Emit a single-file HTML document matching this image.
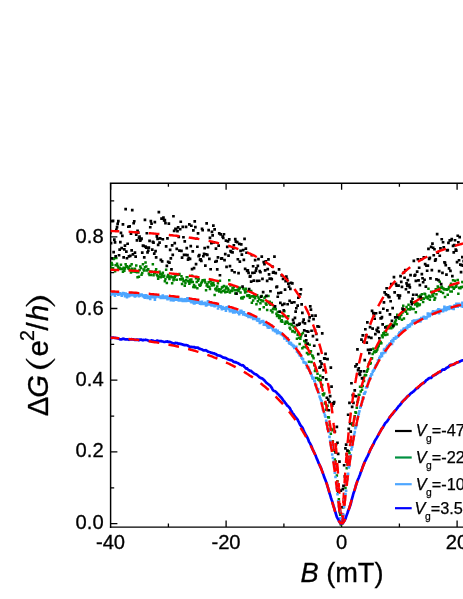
<!DOCTYPE html>
<html><head><meta charset="utf-8"><title>chart</title>
<style>html,body{margin:0;padding:0;background:#fff;font-family:"Liberation Sans",sans-serif}svg{display:block;position:absolute;left:0;top:0;will-change:transform}</style>
</head><body>
<svg width="463" height="599" viewBox="0 0 463 599" style="display:block">
<rect width="463" height="599" fill="#fff"/>
<defs><clipPath id="c"><rect x="110.6" y="183.3" width="357.4" height="343.8"/></clipPath></defs>
<path d="M110.6 182.5V527.9M109.8 527.1H463M109.8 183.3H463" stroke="#000" stroke-width="1.45" fill="none"/>
<path d="M110.6 183.3v6.5M168.4 527.1v-3.5M168.4 183.3v3.5M226.1 527.1v-6.5M226.1 183.3v6.5M283.9 527.1v-3.5M283.9 183.3v3.5M341.6 527.1v-6.5M341.6 183.3v6.5M399.4 527.1v-3.5M399.4 183.3v3.5M457.1 527.1v-6.5M457.1 183.3v6.5M110.6 523.6h6.8M110.6 487.8h3.6M110.6 451.9h6.8M110.6 416.1h3.6M110.6 380.2h6.8M110.6 344.4h3.6M110.6 308.5h6.8M110.6 272.7h3.6M110.6 236.8h6.8M110.6 200.9h3.6" stroke="#000" stroke-width="1.3" fill="none"/>
<g clip-path="url(#c)">
<path d="M107.8 263.6h2.5v2.5h-2.5zM108.5 263.4h2.5v2.5h-2.5zM109.1 267.4h2.5v2.5h-2.5zM109.8 266.5h2.5v2.5h-2.5zM110.4 261.8h2.5v2.5h-2.5zM111.1 263.4h2.5v2.5h-2.5zM111.8 267.0h2.5v2.5h-2.5zM112.4 257.8h2.5v2.5h-2.5zM113.1 257.0h2.5v2.5h-2.5zM113.8 270.0h2.5v2.5h-2.5zM114.4 264.1h2.5v2.5h-2.5zM115.1 256.7h2.5v2.5h-2.5zM115.8 262.6h2.5v2.5h-2.5zM116.4 264.7h2.5v2.5h-2.5zM117.1 266.2h2.5v2.5h-2.5zM117.8 267.5h2.5v2.5h-2.5zM118.4 266.5h2.5v2.5h-2.5zM119.1 267.7h2.5v2.5h-2.5zM119.7 263.4h2.5v2.5h-2.5zM120.4 267.4h2.5v2.5h-2.5zM121.1 267.7h2.5v2.5h-2.5zM121.7 270.4h2.5v2.5h-2.5zM122.4 266.5h2.5v2.5h-2.5zM123.1 269.5h2.5v2.5h-2.5zM123.7 267.2h2.5v2.5h-2.5zM124.4 263.1h2.5v2.5h-2.5zM125.1 265.5h2.5v2.5h-2.5zM125.7 265.1h2.5v2.5h-2.5zM126.4 265.8h2.5v2.5h-2.5zM127.1 266.9h2.5v2.5h-2.5zM127.7 267.6h2.5v2.5h-2.5zM128.4 268.3h2.5v2.5h-2.5zM129.0 264.8h2.5v2.5h-2.5zM129.7 271.2h2.5v2.5h-2.5zM130.4 263.0h2.5v2.5h-2.5zM131.0 267.5h2.5v2.5h-2.5zM131.7 270.3h2.5v2.5h-2.5zM132.4 269.5h2.5v2.5h-2.5zM133.0 270.2h2.5v2.5h-2.5zM133.7 267.5h2.5v2.5h-2.5zM134.4 270.6h2.5v2.5h-2.5zM135.0 264.3h2.5v2.5h-2.5zM135.7 271.0h2.5v2.5h-2.5zM136.3 276.1h2.5v2.5h-2.5zM137.0 271.0h2.5v2.5h-2.5zM137.7 275.4h2.5v2.5h-2.5zM138.3 268.8h2.5v2.5h-2.5zM139.0 265.2h2.5v2.5h-2.5zM139.7 266.7h2.5v2.5h-2.5zM140.3 273.5h2.5v2.5h-2.5zM141.0 271.7h2.5v2.5h-2.5zM141.7 263.1h2.5v2.5h-2.5zM142.3 268.2h2.5v2.5h-2.5zM143.0 269.3h2.5v2.5h-2.5zM143.7 265.9h2.5v2.5h-2.5zM144.3 261.2h2.5v2.5h-2.5zM145.0 265.2h2.5v2.5h-2.5zM145.6 269.3h2.5v2.5h-2.5zM146.3 268.7h2.5v2.5h-2.5zM147.0 267.9h2.5v2.5h-2.5zM147.6 272.2h2.5v2.5h-2.5zM148.3 273.8h2.5v2.5h-2.5zM149.0 270.2h2.5v2.5h-2.5zM149.6 273.7h2.5v2.5h-2.5zM150.3 270.8h2.5v2.5h-2.5zM151.0 270.4h2.5v2.5h-2.5zM151.6 262.9h2.5v2.5h-2.5zM152.3 273.9h2.5v2.5h-2.5zM153.0 271.5h2.5v2.5h-2.5zM153.6 271.8h2.5v2.5h-2.5zM154.3 269.9h2.5v2.5h-2.5zM154.9 268.0h2.5v2.5h-2.5zM155.6 273.4h2.5v2.5h-2.5zM156.3 274.7h2.5v2.5h-2.5zM156.9 277.6h2.5v2.5h-2.5zM157.6 275.3h2.5v2.5h-2.5zM158.3 270.5h2.5v2.5h-2.5zM158.9 272.4h2.5v2.5h-2.5zM159.6 276.1h2.5v2.5h-2.5zM160.3 274.1h2.5v2.5h-2.5zM160.9 272.9h2.5v2.5h-2.5zM161.6 271.5h2.5v2.5h-2.5zM162.2 275.4h2.5v2.5h-2.5zM162.9 274.4h2.5v2.5h-2.5zM163.6 279.9h2.5v2.5h-2.5zM164.2 277.8h2.5v2.5h-2.5zM164.9 268.5h2.5v2.5h-2.5zM165.6 281.7h2.5v2.5h-2.5zM166.2 275.6h2.5v2.5h-2.5zM166.9 273.8h2.5v2.5h-2.5zM167.6 276.0h2.5v2.5h-2.5zM168.2 277.7h2.5v2.5h-2.5zM168.9 275.3h2.5v2.5h-2.5zM169.6 275.3h2.5v2.5h-2.5zM170.2 275.7h2.5v2.5h-2.5zM170.9 282.0h2.5v2.5h-2.5zM171.5 276.3h2.5v2.5h-2.5zM172.2 278.9h2.5v2.5h-2.5zM172.9 278.0h2.5v2.5h-2.5zM173.5 275.5h2.5v2.5h-2.5zM174.2 274.3h2.5v2.5h-2.5zM174.9 273.6h2.5v2.5h-2.5zM175.5 278.5h2.5v2.5h-2.5zM176.2 273.8h2.5v2.5h-2.5zM176.9 273.1h2.5v2.5h-2.5zM177.5 273.4h2.5v2.5h-2.5zM178.2 272.7h2.5v2.5h-2.5zM178.9 278.1h2.5v2.5h-2.5zM179.5 278.3h2.5v2.5h-2.5zM180.2 275.0h2.5v2.5h-2.5zM180.8 282.7h2.5v2.5h-2.5zM181.5 277.4h2.5v2.5h-2.5zM182.2 280.1h2.5v2.5h-2.5zM182.8 279.7h2.5v2.5h-2.5zM183.5 284.6h2.5v2.5h-2.5zM184.2 281.8h2.5v2.5h-2.5zM184.8 279.0h2.5v2.5h-2.5zM185.5 276.1h2.5v2.5h-2.5zM186.2 275.9h2.5v2.5h-2.5zM186.8 279.7h2.5v2.5h-2.5zM187.5 280.2h2.5v2.5h-2.5zM188.1 282.6h2.5v2.5h-2.5zM188.8 278.5h2.5v2.5h-2.5zM189.5 280.9h2.5v2.5h-2.5zM190.1 278.2h2.5v2.5h-2.5zM190.8 274.4h2.5v2.5h-2.5zM191.5 280.7h2.5v2.5h-2.5zM192.1 285.8h2.5v2.5h-2.5zM192.8 283.8h2.5v2.5h-2.5zM193.5 286.0h2.5v2.5h-2.5zM194.1 285.3h2.5v2.5h-2.5zM194.8 276.9h2.5v2.5h-2.5zM195.5 280.7h2.5v2.5h-2.5zM196.1 286.9h2.5v2.5h-2.5zM196.8 279.6h2.5v2.5h-2.5zM197.4 277.7h2.5v2.5h-2.5zM198.1 283.4h2.5v2.5h-2.5zM198.8 284.6h2.5v2.5h-2.5zM199.4 283.6h2.5v2.5h-2.5zM200.1 281.7h2.5v2.5h-2.5zM200.8 280.6h2.5v2.5h-2.5zM201.4 278.9h2.5v2.5h-2.5zM202.1 278.9h2.5v2.5h-2.5zM202.8 279.2h2.5v2.5h-2.5zM203.4 278.7h2.5v2.5h-2.5zM204.1 281.3h2.5v2.5h-2.5zM204.8 288.9h2.5v2.5h-2.5zM205.4 284.3h2.5v2.5h-2.5zM206.1 282.9h2.5v2.5h-2.5zM206.7 285.4h2.5v2.5h-2.5zM207.4 281.1h2.5v2.5h-2.5zM208.1 285.6h2.5v2.5h-2.5zM208.7 287.7h2.5v2.5h-2.5zM209.4 279.7h2.5v2.5h-2.5zM210.1 282.5h2.5v2.5h-2.5zM210.7 284.2h2.5v2.5h-2.5zM211.4 281.9h2.5v2.5h-2.5zM212.1 281.5h2.5v2.5h-2.5zM212.7 284.1h2.5v2.5h-2.5zM213.4 293.8h2.5v2.5h-2.5zM214.1 287.9h2.5v2.5h-2.5zM214.7 287.3h2.5v2.5h-2.5zM215.4 289.2h2.5v2.5h-2.5zM216.0 285.3h2.5v2.5h-2.5zM216.7 282.1h2.5v2.5h-2.5zM217.4 287.9h2.5v2.5h-2.5zM218.0 290.3h2.5v2.5h-2.5zM218.7 279.6h2.5v2.5h-2.5zM219.4 288.2h2.5v2.5h-2.5zM220.0 291.0h2.5v2.5h-2.5zM220.7 286.2h2.5v2.5h-2.5zM221.4 285.7h2.5v2.5h-2.5zM222.0 289.7h2.5v2.5h-2.5zM222.7 284.7h2.5v2.5h-2.5zM223.3 289.2h2.5v2.5h-2.5zM224.0 290.9h2.5v2.5h-2.5zM224.7 287.3h2.5v2.5h-2.5zM225.3 285.4h2.5v2.5h-2.5zM226.0 290.4h2.5v2.5h-2.5zM226.7 287.2h2.5v2.5h-2.5zM227.3 288.8h2.5v2.5h-2.5zM228.0 279.0h2.5v2.5h-2.5zM228.7 291.3h2.5v2.5h-2.5zM229.3 284.3h2.5v2.5h-2.5zM230.0 289.4h2.5v2.5h-2.5zM230.7 289.8h2.5v2.5h-2.5zM231.3 287.1h2.5v2.5h-2.5zM232.0 286.7h2.5v2.5h-2.5zM232.6 285.6h2.5v2.5h-2.5zM233.3 289.0h2.5v2.5h-2.5zM234.0 292.3h2.5v2.5h-2.5zM234.6 292.3h2.5v2.5h-2.5zM235.3 288.9h2.5v2.5h-2.5zM236.0 288.9h2.5v2.5h-2.5zM236.6 286.3h2.5v2.5h-2.5zM237.3 289.8h2.5v2.5h-2.5zM238.0 287.8h2.5v2.5h-2.5zM238.6 286.5h2.5v2.5h-2.5zM239.3 291.3h2.5v2.5h-2.5zM240.0 297.1h2.5v2.5h-2.5zM240.6 296.3h2.5v2.5h-2.5zM241.3 297.3h2.5v2.5h-2.5zM241.9 287.2h2.5v2.5h-2.5zM242.6 295.7h2.5v2.5h-2.5zM243.3 288.8h2.5v2.5h-2.5zM243.9 291.3h2.5v2.5h-2.5zM244.6 287.6h2.5v2.5h-2.5zM245.3 290.3h2.5v2.5h-2.5zM245.9 294.3h2.5v2.5h-2.5zM246.6 294.8h2.5v2.5h-2.5zM247.3 294.1h2.5v2.5h-2.5zM247.9 294.0h2.5v2.5h-2.5zM248.6 296.6h2.5v2.5h-2.5zM249.2 295.2h2.5v2.5h-2.5zM249.9 289.8h2.5v2.5h-2.5zM250.6 301.4h2.5v2.5h-2.5zM251.2 294.9h2.5v2.5h-2.5zM251.9 299.2h2.5v2.5h-2.5zM252.6 295.7h2.5v2.5h-2.5zM253.2 293.7h2.5v2.5h-2.5zM253.9 297.1h2.5v2.5h-2.5zM254.6 294.5h2.5v2.5h-2.5zM255.2 302.9h2.5v2.5h-2.5zM255.9 294.0h2.5v2.5h-2.5zM256.6 300.1h2.5v2.5h-2.5zM257.2 296.3h2.5v2.5h-2.5zM257.9 298.1h2.5v2.5h-2.5zM258.5 307.9h2.5v2.5h-2.5zM259.2 302.0h2.5v2.5h-2.5zM259.9 299.0h2.5v2.5h-2.5zM260.5 294.8h2.5v2.5h-2.5zM261.2 299.5h2.5v2.5h-2.5zM261.9 299.9h2.5v2.5h-2.5zM262.5 306.0h2.5v2.5h-2.5zM263.2 296.7h2.5v2.5h-2.5zM263.9 295.8h2.5v2.5h-2.5zM264.5 302.3h2.5v2.5h-2.5zM265.2 303.5h2.5v2.5h-2.5zM265.9 308.7h2.5v2.5h-2.5zM266.5 300.6h2.5v2.5h-2.5zM267.2 294.8h2.5v2.5h-2.5zM267.8 302.0h2.5v2.5h-2.5zM268.5 300.6h2.5v2.5h-2.5zM269.2 303.5h2.5v2.5h-2.5zM269.8 309.2h2.5v2.5h-2.5zM270.5 301.8h2.5v2.5h-2.5zM271.2 311.0h2.5v2.5h-2.5zM271.8 308.0h2.5v2.5h-2.5zM272.5 306.8h2.5v2.5h-2.5zM273.2 305.2h2.5v2.5h-2.5zM273.8 307.3h2.5v2.5h-2.5zM274.5 308.0h2.5v2.5h-2.5zM275.2 312.4h2.5v2.5h-2.5zM275.8 314.7h2.5v2.5h-2.5zM276.5 310.7h2.5v2.5h-2.5zM277.1 313.9h2.5v2.5h-2.5zM277.8 316.5h2.5v2.5h-2.5zM278.5 316.9h2.5v2.5h-2.5zM279.1 314.8h2.5v2.5h-2.5zM279.8 320.1h2.5v2.5h-2.5zM280.5 318.9h2.5v2.5h-2.5zM281.1 320.5h2.5v2.5h-2.5zM281.8 315.0h2.5v2.5h-2.5zM282.5 314.8h2.5v2.5h-2.5zM283.1 310.0h2.5v2.5h-2.5zM283.8 322.6h2.5v2.5h-2.5zM284.4 320.5h2.5v2.5h-2.5zM285.1 315.7h2.5v2.5h-2.5zM285.8 320.3h2.5v2.5h-2.5zM286.4 321.4h2.5v2.5h-2.5zM287.1 315.1h2.5v2.5h-2.5zM287.8 322.8h2.5v2.5h-2.5zM288.4 326.4h2.5v2.5h-2.5zM289.1 327.7h2.5v2.5h-2.5zM289.8 322.8h2.5v2.5h-2.5zM290.4 323.7h2.5v2.5h-2.5zM291.1 330.2h2.5v2.5h-2.5zM291.8 329.7h2.5v2.5h-2.5zM292.4 325.3h2.5v2.5h-2.5zM293.1 326.0h2.5v2.5h-2.5zM293.7 331.1h2.5v2.5h-2.5zM294.4 327.6h2.5v2.5h-2.5zM295.1 328.7h2.5v2.5h-2.5zM295.7 337.6h2.5v2.5h-2.5zM296.4 333.6h2.5v2.5h-2.5zM297.1 332.0h2.5v2.5h-2.5zM297.7 336.4h2.5v2.5h-2.5zM298.4 342.7h2.5v2.5h-2.5zM299.1 337.4h2.5v2.5h-2.5zM299.7 334.9h2.5v2.5h-2.5zM300.4 333.1h2.5v2.5h-2.5zM301.1 347.1h2.5v2.5h-2.5zM301.7 331.8h2.5v2.5h-2.5zM302.4 345.7h2.5v2.5h-2.5zM303.0 339.7h2.5v2.5h-2.5zM303.7 340.0h2.5v2.5h-2.5zM304.4 342.0h2.5v2.5h-2.5zM305.0 346.1h2.5v2.5h-2.5zM305.7 351.8h2.5v2.5h-2.5zM306.4 347.0h2.5v2.5h-2.5zM307.0 352.9h2.5v2.5h-2.5zM307.7 360.5h2.5v2.5h-2.5zM308.4 343.6h2.5v2.5h-2.5zM309.0 352.3h2.5v2.5h-2.5zM309.7 349.9h2.5v2.5h-2.5zM310.3 360.7h2.5v2.5h-2.5zM311.0 354.2h2.5v2.5h-2.5zM311.7 355.3h2.5v2.5h-2.5zM312.3 357.1h2.5v2.5h-2.5zM313.0 364.1h2.5v2.5h-2.5zM313.7 369.8h2.5v2.5h-2.5zM314.3 368.0h2.5v2.5h-2.5zM315.0 376.7h2.5v2.5h-2.5zM315.7 376.8h2.5v2.5h-2.5zM316.3 372.6h2.5v2.5h-2.5zM317.0 378.2h2.5v2.5h-2.5zM317.7 377.4h2.5v2.5h-2.5zM318.3 379.3h2.5v2.5h-2.5zM319.0 374.4h2.5v2.5h-2.5zM319.6 378.8h2.5v2.5h-2.5zM320.3 385.6h2.5v2.5h-2.5zM321.0 383.7h2.5v2.5h-2.5zM321.6 392.9h2.5v2.5h-2.5zM322.3 393.9h2.5v2.5h-2.5zM323.0 392.3h2.5v2.5h-2.5zM323.6 402.3h2.5v2.5h-2.5zM324.3 401.9h2.5v2.5h-2.5zM325.0 408.4h2.5v2.5h-2.5zM325.6 406.5h2.5v2.5h-2.5zM326.3 404.5h2.5v2.5h-2.5zM327.0 416.0h2.5v2.5h-2.5zM327.6 416.2h2.5v2.5h-2.5zM328.3 423.6h2.5v2.5h-2.5zM328.9 428.3h2.5v2.5h-2.5zM329.6 432.6h2.5v2.5h-2.5zM330.3 427.7h2.5v2.5h-2.5zM330.9 429.0h2.5v2.5h-2.5zM331.6 440.0h2.5v2.5h-2.5zM332.3 449.0h2.5v2.5h-2.5zM332.9 449.2h2.5v2.5h-2.5zM333.6 458.2h2.5v2.5h-2.5zM334.3 460.1h2.5v2.5h-2.5zM334.9 467.9h2.5v2.5h-2.5zM335.6 474.3h2.5v2.5h-2.5zM336.2 480.0h2.5v2.5h-2.5zM336.9 491.2h2.5v2.5h-2.5zM337.6 498.1h2.5v2.5h-2.5zM338.2 510.3h2.5v2.5h-2.5zM338.9 513.4h2.5v2.5h-2.5zM339.6 523.3h2.5v2.5h-2.5zM340.2 522.5h2.5v2.5h-2.5zM340.9 522.4h2.5v2.5h-2.5zM341.6 514.2h2.5v2.5h-2.5zM342.2 506.0h2.5v2.5h-2.5zM342.9 502.7h2.5v2.5h-2.5zM343.6 493.7h2.5v2.5h-2.5zM344.2 486.7h2.5v2.5h-2.5zM344.9 475.8h2.5v2.5h-2.5zM345.5 467.1h2.5v2.5h-2.5zM346.2 462.9h2.5v2.5h-2.5zM346.9 459.8h2.5v2.5h-2.5zM347.5 450.1h2.5v2.5h-2.5zM348.2 451.8h2.5v2.5h-2.5zM348.9 439.8h2.5v2.5h-2.5zM349.5 440.1h2.5v2.5h-2.5zM350.2 440.6h2.5v2.5h-2.5zM350.9 423.7h2.5v2.5h-2.5zM351.5 422.1h2.5v2.5h-2.5zM352.2 424.3h2.5v2.5h-2.5zM352.9 417.8h2.5v2.5h-2.5zM353.5 415.1h2.5v2.5h-2.5zM354.2 411.0h2.5v2.5h-2.5zM354.8 411.5h2.5v2.5h-2.5zM355.5 406.5h2.5v2.5h-2.5zM356.2 400.8h2.5v2.5h-2.5zM356.8 398.5h2.5v2.5h-2.5zM357.5 393.5h2.5v2.5h-2.5zM358.2 393.4h2.5v2.5h-2.5zM358.8 385.6h2.5v2.5h-2.5zM359.5 390.3h2.5v2.5h-2.5zM360.2 385.6h2.5v2.5h-2.5zM360.8 388.4h2.5v2.5h-2.5zM361.5 384.7h2.5v2.5h-2.5zM362.2 376.5h2.5v2.5h-2.5zM362.8 379.7h2.5v2.5h-2.5zM363.5 374.3h2.5v2.5h-2.5zM364.1 373.7h2.5v2.5h-2.5zM364.8 374.1h2.5v2.5h-2.5zM365.5 370.6h2.5v2.5h-2.5zM366.1 369.2h2.5v2.5h-2.5zM366.8 367.4h2.5v2.5h-2.5zM367.5 362.8h2.5v2.5h-2.5zM368.1 361.4h2.5v2.5h-2.5zM368.8 362.6h2.5v2.5h-2.5zM369.5 361.8h2.5v2.5h-2.5zM370.1 357.5h2.5v2.5h-2.5zM370.8 356.9h2.5v2.5h-2.5zM371.4 352.8h2.5v2.5h-2.5zM372.1 347.6h2.5v2.5h-2.5zM372.8 350.4h2.5v2.5h-2.5zM373.4 351.1h2.5v2.5h-2.5zM374.1 350.1h2.5v2.5h-2.5zM374.8 350.4h2.5v2.5h-2.5zM375.4 349.3h2.5v2.5h-2.5zM376.1 348.3h2.5v2.5h-2.5zM376.8 345.7h2.5v2.5h-2.5zM377.4 344.6h2.5v2.5h-2.5zM378.1 340.7h2.5v2.5h-2.5zM378.8 342.3h2.5v2.5h-2.5zM379.4 340.7h2.5v2.5h-2.5zM380.1 342.0h2.5v2.5h-2.5zM380.7 334.3h2.5v2.5h-2.5zM381.4 335.9h2.5v2.5h-2.5zM382.1 331.9h2.5v2.5h-2.5zM382.7 333.3h2.5v2.5h-2.5zM383.4 330.7h2.5v2.5h-2.5zM384.1 333.8h2.5v2.5h-2.5zM384.7 330.6h2.5v2.5h-2.5zM385.4 325.1h2.5v2.5h-2.5zM386.1 333.3h2.5v2.5h-2.5zM386.7 326.9h2.5v2.5h-2.5zM387.4 324.8h2.5v2.5h-2.5zM388.1 326.9h2.5v2.5h-2.5zM388.7 325.3h2.5v2.5h-2.5zM389.4 323.2h2.5v2.5h-2.5zM390.0 327.0h2.5v2.5h-2.5zM390.7 323.6h2.5v2.5h-2.5zM391.4 325.9h2.5v2.5h-2.5zM392.0 324.7h2.5v2.5h-2.5zM392.7 323.8h2.5v2.5h-2.5zM393.4 321.9h2.5v2.5h-2.5zM394.0 320.4h2.5v2.5h-2.5zM394.7 318.9h2.5v2.5h-2.5zM395.4 322.9h2.5v2.5h-2.5zM396.0 313.6h2.5v2.5h-2.5zM396.7 315.0h2.5v2.5h-2.5zM397.3 315.3h2.5v2.5h-2.5zM398.0 317.5h2.5v2.5h-2.5zM398.7 316.1h2.5v2.5h-2.5zM399.3 313.8h2.5v2.5h-2.5zM400.0 313.5h2.5v2.5h-2.5zM400.7 318.5h2.5v2.5h-2.5zM401.3 311.2h2.5v2.5h-2.5zM402.0 304.6h2.5v2.5h-2.5zM402.7 317.2h2.5v2.5h-2.5zM403.3 308.6h2.5v2.5h-2.5zM404.0 309.8h2.5v2.5h-2.5zM404.7 310.6h2.5v2.5h-2.5zM405.3 305.7h2.5v2.5h-2.5zM406.0 312.6h2.5v2.5h-2.5zM406.6 308.0h2.5v2.5h-2.5zM407.3 303.6h2.5v2.5h-2.5zM408.0 308.0h2.5v2.5h-2.5zM408.6 308.2h2.5v2.5h-2.5zM409.3 306.0h2.5v2.5h-2.5zM410.0 307.2h2.5v2.5h-2.5zM410.6 300.5h2.5v2.5h-2.5zM411.3 307.7h2.5v2.5h-2.5zM412.0 301.5h2.5v2.5h-2.5zM412.6 307.8h2.5v2.5h-2.5zM413.3 301.1h2.5v2.5h-2.5zM414.0 303.2h2.5v2.5h-2.5zM414.6 310.9h2.5v2.5h-2.5zM415.3 301.9h2.5v2.5h-2.5zM415.9 305.0h2.5v2.5h-2.5zM416.6 302.5h2.5v2.5h-2.5zM417.3 295.3h2.5v2.5h-2.5zM417.9 303.9h2.5v2.5h-2.5zM418.6 303.3h2.5v2.5h-2.5zM419.3 294.3h2.5v2.5h-2.5zM419.9 298.5h2.5v2.5h-2.5zM420.6 293.0h2.5v2.5h-2.5zM421.3 296.9h2.5v2.5h-2.5zM421.9 300.8h2.5v2.5h-2.5zM422.6 297.5h2.5v2.5h-2.5zM423.3 292.4h2.5v2.5h-2.5zM423.9 293.1h2.5v2.5h-2.5zM424.6 296.2h2.5v2.5h-2.5zM425.2 295.6h2.5v2.5h-2.5zM425.9 295.9h2.5v2.5h-2.5zM426.6 297.3h2.5v2.5h-2.5zM427.2 287.4h2.5v2.5h-2.5zM427.9 294.4h2.5v2.5h-2.5zM428.6 298.4h2.5v2.5h-2.5zM429.2 295.6h2.5v2.5h-2.5zM429.9 290.6h2.5v2.5h-2.5zM430.6 290.5h2.5v2.5h-2.5zM431.2 293.3h2.5v2.5h-2.5zM431.9 295.1h2.5v2.5h-2.5zM432.5 292.0h2.5v2.5h-2.5zM433.2 298.5h2.5v2.5h-2.5zM433.9 296.8h2.5v2.5h-2.5zM434.5 287.9h2.5v2.5h-2.5zM435.2 292.9h2.5v2.5h-2.5zM435.9 289.0h2.5v2.5h-2.5zM436.5 285.2h2.5v2.5h-2.5zM437.2 287.3h2.5v2.5h-2.5zM437.9 289.7h2.5v2.5h-2.5zM438.5 280.4h2.5v2.5h-2.5zM439.2 286.4h2.5v2.5h-2.5zM439.9 290.4h2.5v2.5h-2.5zM440.5 285.5h2.5v2.5h-2.5zM441.2 286.7h2.5v2.5h-2.5zM441.8 291.8h2.5v2.5h-2.5zM442.5 287.6h2.5v2.5h-2.5zM443.2 288.3h2.5v2.5h-2.5zM443.8 295.7h2.5v2.5h-2.5zM444.5 287.9h2.5v2.5h-2.5zM445.2 288.1h2.5v2.5h-2.5zM445.8 288.5h2.5v2.5h-2.5zM446.5 293.4h2.5v2.5h-2.5zM447.2 287.7h2.5v2.5h-2.5zM447.8 286.1h2.5v2.5h-2.5zM448.5 285.3h2.5v2.5h-2.5zM449.2 290.3h2.5v2.5h-2.5zM449.8 282.6h2.5v2.5h-2.5zM450.5 290.2h2.5v2.5h-2.5zM451.1 285.8h2.5v2.5h-2.5zM451.8 279.1h2.5v2.5h-2.5zM452.5 287.4h2.5v2.5h-2.5zM453.1 286.4h2.5v2.5h-2.5zM453.8 279.5h2.5v2.5h-2.5zM454.5 285.4h2.5v2.5h-2.5zM455.1 284.9h2.5v2.5h-2.5zM455.8 282.5h2.5v2.5h-2.5zM456.5 278.8h2.5v2.5h-2.5zM457.1 292.4h2.5v2.5h-2.5zM457.8 286.4h2.5v2.5h-2.5zM458.4 286.9h2.5v2.5h-2.5zM459.1 287.1h2.5v2.5h-2.5zM459.8 285.9h2.5v2.5h-2.5zM460.4 285.7h2.5v2.5h-2.5zM461.1 280.7h2.5v2.5h-2.5zM461.8 285.6h2.5v2.5h-2.5zM462.4 281.1h2.5v2.5h-2.5zM463.1 279.8h2.5v2.5h-2.5z" fill="#008000"/>
<polyline points="108.5,269.7 110.0,269.8 111.4,269.8 112.9,269.8 114.3,269.9 115.7,269.9 117.2,270.0 118.6,270.0 120.1,270.1 121.5,270.2 123.0,270.2 124.4,270.3 125.8,270.3 127.3,270.4 128.7,270.5 130.2,270.5 131.6,270.6 133.1,270.7 134.5,270.7 136.0,270.8 137.4,270.9 138.8,271.0 140.3,271.0 141.7,271.1 143.2,271.2 144.6,271.3 146.1,271.4 147.5,271.5 148.9,271.6 150.4,271.7 151.8,271.8 153.3,271.9 154.7,272.0 156.2,272.1 157.6,272.2 159.1,272.4 160.5,272.5 161.9,272.6 163.4,272.7 164.8,272.9 166.3,273.0 167.7,273.1 169.2,273.3 170.6,273.4 172.0,273.6 173.5,273.7 174.9,273.9 176.4,274.0 177.8,274.2 179.3,274.4 180.7,274.6 182.2,274.7 183.6,274.9 185.0,275.1 186.5,275.3 187.9,275.5 189.4,275.7 190.8,275.9 192.3,276.1 193.7,276.4 195.1,276.6 196.6,276.8 198.0,277.1 199.5,277.3 200.9,277.5 202.4,277.8 203.8,278.1 205.3,278.3 206.7,278.6 208.1,278.9 209.6,279.2 211.0,279.5 212.5,279.8 213.9,280.1 215.4,280.5 216.8,280.8 218.2,281.1 219.7,281.5 221.1,281.9 222.6,282.2 224.0,282.6 225.5,283.0 226.9,283.4 228.4,283.8 229.8,284.3 231.2,284.7 232.7,285.2 234.1,285.6 235.6,286.1 237.0,286.6 238.5,287.1 239.9,287.6 241.3,288.2 242.8,288.7 244.2,289.3 245.7,289.9 247.1,290.5 248.6,291.1 250.0,291.8 251.5,292.4 252.9,293.1 254.3,293.8 255.8,294.5 257.2,295.3 258.7,296.0 260.1,296.8 261.6,297.7 263.0,298.5 264.4,299.4 265.9,300.3 267.3,301.2 268.8,302.2 270.2,303.2 271.7,304.2 273.1,305.3 274.6,306.4 276.0,307.5 277.4,308.7 278.9,310.0 280.3,311.2 281.8,312.6 283.2,313.9 284.7,315.4 286.1,316.9 287.5,318.4 289.0,320.0 290.4,321.7 291.9,323.4 293.3,325.2 294.8,327.1 296.2,329.1 297.7,331.2 299.1,333.3 300.5,335.6 302.0,337.9 303.4,340.4 304.9,343.0 306.3,345.7 307.8,348.6 309.2,351.6 310.6,354.8 312.1,358.2 313.5,361.7 315.0,365.5 316.4,369.5 317.9,373.7 319.3,378.3 320.8,383.1 322.2,388.3 323.6,393.9 324.3,396.5 324.4,396.9 324.5,397.4 324.6,397.9 324.7,398.4 324.9,398.9 325.0,399.4 325.1,399.9 325.2,400.4 325.3,400.9 325.4,401.4 325.5,401.9 325.7,402.4 325.8,402.9 325.9,403.5 326.0,404.0 326.1,404.5 326.2,405.0 326.4,405.6 326.5,406.1 326.6,406.7 326.7,407.2 326.8,407.8 326.9,408.3 327.0,408.9 327.2,409.4 327.3,410.0 327.4,410.6 327.5,411.1 327.6,411.7 327.7,412.3 327.9,412.9 328.0,413.5 328.1,414.1 328.2,414.7 328.3,415.3 328.4,415.9 328.5,416.5 328.7,417.1 328.8,417.7 328.9,418.3 329.0,419.0 329.1,419.6 329.2,420.2 329.4,420.9 329.5,421.5 329.6,422.2 329.7,422.8 329.8,423.5 329.9,424.1 330.1,424.8 330.2,425.5 330.3,426.2 330.4,426.9 330.5,427.6 330.6,428.3 330.7,429.0 330.9,429.7 331.0,430.4 331.1,431.1 331.2,431.8 331.3,432.6 331.4,433.3 331.6,434.1 331.7,434.8 331.8,435.6 331.9,436.3 332.0,437.1 332.1,437.9 332.2,438.7 332.4,439.5 332.5,440.3 332.6,441.1 332.7,441.9 332.8,442.7 332.9,443.5 333.1,444.4 333.2,445.2 333.3,446.0 333.4,446.9 333.5,447.8 333.6,448.6 333.7,449.5 333.9,450.4 334.0,451.3 334.1,452.2 334.2,453.1 334.3,454.0 334.4,455.0 334.6,455.9 334.7,456.9 334.8,457.8 334.9,458.8 335.0,459.8 335.1,460.8 335.2,461.8 335.4,462.8 335.5,463.8 335.6,464.8 335.7,465.8 335.8,466.9 335.9,467.9 336.1,469.0 336.2,470.1 336.3,471.2 336.4,472.3 336.5,473.4 336.6,474.5 336.7,475.7 336.9,476.8 337.0,478.0 337.1,479.1 337.2,480.3 337.3,481.5 337.4,482.7 337.6,483.9 337.7,485.1 337.8,486.4 337.9,487.6 338.0,488.9 338.1,490.2 338.3,491.4 338.4,492.7 338.5,494.0 338.6,495.3 338.7,496.6 338.8,498.0 338.9,499.3 339.1,500.6 339.2,502.0 339.3,503.3 339.4,504.7 339.5,506.0 339.6,507.3 339.8,508.7 339.9,510.0 340.0,511.3 340.1,512.6 340.2,513.8 340.3,515.0 340.4,516.2 340.6,517.4 340.7,518.4 340.8,519.5 340.9,520.4 341.0,521.2 341.1,521.9 341.3,522.5 341.4,522.9 341.5,523.2 341.6,523.3 341.7,523.2 341.8,522.9 341.9,522.5 342.1,521.9 342.2,521.2 342.3,520.4 342.4,519.5 342.5,518.4 342.6,517.4 342.8,516.2 342.9,515.0 343.0,513.8 343.1,512.6 343.2,511.3 343.3,510.0 343.4,508.7 343.6,507.3 343.7,506.0 343.8,504.7 343.9,503.3 344.0,502.0 344.1,500.6 344.3,499.3 344.4,498.0 344.5,496.6 344.6,495.3 344.7,494.0 344.8,492.7 344.9,491.4 345.1,490.2 345.2,488.9 345.3,487.6 345.4,486.4 345.5,485.1 345.6,483.9 345.8,482.7 345.9,481.5 346.0,480.3 346.1,479.1 346.2,478.0 346.3,476.8 346.5,475.7 346.6,474.5 346.7,473.4 346.8,472.3 346.9,471.2 347.0,470.1 347.1,469.0 347.3,467.9 347.4,466.9 347.5,465.8 347.6,464.8 347.7,463.8 347.8,462.8 348.0,461.8 348.1,460.8 348.2,459.8 348.3,458.8 348.4,457.8 348.5,456.9 348.6,455.9 348.8,455.0 348.9,454.0 349.0,453.1 349.1,452.2 349.2,451.3 349.3,450.4 349.5,449.5 349.6,448.6 349.7,447.8 349.8,446.9 349.9,446.0 350.0,445.2 350.1,444.4 350.3,443.5 350.4,442.7 350.5,441.9 350.6,441.1 350.7,440.3 350.8,439.5 351.0,438.7 351.1,437.9 351.2,437.1 351.3,436.3 351.4,435.6 351.5,434.8 351.6,434.1 351.8,433.3 351.9,432.6 352.0,431.8 352.1,431.1 352.2,430.4 352.3,429.7 352.5,429.0 352.6,428.3 352.7,427.6 352.8,426.9 352.9,426.2 353.0,425.5 353.2,424.8 353.3,424.1 353.4,423.5 353.5,422.8 353.6,422.2 353.7,421.5 353.8,420.9 354.0,420.2 354.1,419.6 354.2,419.0 354.3,418.3 354.4,417.7 354.5,417.1 354.7,416.5 354.8,415.9 354.9,415.3 355.0,414.7 355.1,414.1 355.2,413.5 355.3,412.9 355.5,412.3 355.6,411.7 355.7,411.1 355.8,410.6 355.9,410.0 356.0,409.4 356.2,408.9 356.3,408.3 356.4,407.8 356.5,407.2 356.6,406.7 356.7,406.1 356.8,405.6 357.0,405.0 357.1,404.5 357.2,404.0 357.3,403.5 357.4,402.9 357.5,402.4 357.7,401.9 357.8,401.4 357.9,400.9 358.0,400.4 358.1,399.9 358.2,399.4 358.3,398.9 358.5,398.4 358.6,397.9 358.7,397.4 358.8,396.9 358.9,396.5 360.4,390.7 361.8,385.4 363.3,380.4 364.7,375.7 366.1,371.3 367.6,367.2 369.0,363.4 370.5,359.7 371.9,356.3 373.4,353.0 374.8,349.9 376.2,347.0 377.7,344.2 379.1,341.5 380.6,339.0 382.0,336.6 383.5,334.3 384.9,332.1 386.4,330.0 387.8,328.0 389.2,326.1 390.7,324.2 392.1,322.4 393.6,320.7 395.0,319.1 396.5,317.5 397.9,316.0 399.4,314.6 400.8,313.2 402.2,311.8 403.7,310.5 405.1,309.3 406.6,308.1 408.0,306.9 409.5,305.8 410.9,304.7 412.3,303.6 413.8,302.6 415.2,301.6 416.7,300.7 418.1,299.8 419.6,298.9 421.0,298.0 422.5,297.2 423.9,296.4 425.3,295.6 426.8,294.8 428.2,294.1 429.7,293.4 431.1,292.7 432.6,292.0 434.0,291.4 435.4,290.8 436.9,290.1 438.3,289.6 439.8,289.0 441.2,288.4 442.7,287.9 444.1,287.3 445.6,286.8 447.0,286.3 448.4,285.8 449.9,285.4 451.3,284.9 452.8,284.5 454.2,284.0 455.7,283.6 457.1,283.2 458.5,282.8 460.0,282.4 461.4,282.0 462.9,281.7 464.3,281.3 465.8,281.0 467.2,280.6" fill="none" stroke="#ff0000" stroke-width="2.45" stroke-dasharray="10.75 9.4" stroke-linejoin="round"/>
<path d="M107.7 218.9h2.7v2.7h-2.7zM108.4 237.9h2.7v2.7h-2.7zM109.0 231.6h2.7v2.7h-2.7zM109.7 241.7h2.7v2.7h-2.7zM110.3 257.1h2.7v2.7h-2.7zM111.0 219.7h2.7v2.7h-2.7zM111.7 219.6h2.7v2.7h-2.7zM112.3 250.7h2.7v2.7h-2.7zM113.0 238.2h2.7v2.7h-2.7zM113.7 241.0h2.7v2.7h-2.7zM114.3 255.1h2.7v2.7h-2.7zM115.0 228.6h2.7v2.7h-2.7zM115.7 225.7h2.7v2.7h-2.7zM116.3 222.6h2.7v2.7h-2.7zM117.0 219.7h2.7v2.7h-2.7zM117.7 253.9h2.7v2.7h-2.7zM118.3 248.2h2.7v2.7h-2.7zM119.0 240.7h2.7v2.7h-2.7zM119.6 231.6h2.7v2.7h-2.7zM120.3 246.8h2.7v2.7h-2.7zM121.0 234.5h2.7v2.7h-2.7zM121.6 223.0h2.7v2.7h-2.7zM122.3 256.1h2.7v2.7h-2.7zM123.0 248.0h2.7v2.7h-2.7zM123.6 244.3h2.7v2.7h-2.7zM124.3 207.8h2.7v2.7h-2.7zM125.0 250.2h2.7v2.7h-2.7zM125.6 256.9h2.7v2.7h-2.7zM126.3 242.4h2.7v2.7h-2.7zM127.0 225.4h2.7v2.7h-2.7zM127.6 255.0h2.7v2.7h-2.7zM128.3 225.0h2.7v2.7h-2.7zM128.9 254.6h2.7v2.7h-2.7zM129.6 232.2h2.7v2.7h-2.7zM130.3 249.0h2.7v2.7h-2.7zM130.9 208.7h2.7v2.7h-2.7zM131.6 253.1h2.7v2.7h-2.7zM132.3 221.9h2.7v2.7h-2.7zM132.9 219.9h2.7v2.7h-2.7zM133.6 251.3h2.7v2.7h-2.7zM134.3 255.3h2.7v2.7h-2.7zM134.9 233.2h2.7v2.7h-2.7zM135.6 239.0h2.7v2.7h-2.7zM136.2 229.5h2.7v2.7h-2.7zM136.9 231.3h2.7v2.7h-2.7zM137.6 236.5h2.7v2.7h-2.7zM138.2 235.2h2.7v2.7h-2.7zM138.9 239.3h2.7v2.7h-2.7zM139.6 238.0h2.7v2.7h-2.7zM140.2 237.3h2.7v2.7h-2.7zM140.9 251.2h2.7v2.7h-2.7zM141.6 244.2h2.7v2.7h-2.7zM142.2 244.5h2.7v2.7h-2.7zM142.9 256.1h2.7v2.7h-2.7zM143.6 218.5h2.7v2.7h-2.7zM144.2 245.2h2.7v2.7h-2.7zM144.9 246.3h2.7v2.7h-2.7zM145.5 231.9h2.7v2.7h-2.7zM146.2 251.1h2.7v2.7h-2.7zM146.9 249.3h2.7v2.7h-2.7zM147.5 246.2h2.7v2.7h-2.7zM148.2 239.6h2.7v2.7h-2.7zM148.9 225.9h2.7v2.7h-2.7zM149.5 219.7h2.7v2.7h-2.7zM150.2 222.4h2.7v2.7h-2.7zM150.9 248.3h2.7v2.7h-2.7zM151.5 240.5h2.7v2.7h-2.7zM152.2 241.2h2.7v2.7h-2.7zM152.9 252.3h2.7v2.7h-2.7zM153.5 220.7h2.7v2.7h-2.7zM154.2 249.8h2.7v2.7h-2.7zM154.8 256.0h2.7v2.7h-2.7zM155.5 235.1h2.7v2.7h-2.7zM156.2 237.5h2.7v2.7h-2.7zM156.8 243.5h2.7v2.7h-2.7zM157.5 210.7h2.7v2.7h-2.7zM158.2 241.2h2.7v2.7h-2.7zM158.8 237.1h2.7v2.7h-2.7zM159.5 258.6h2.7v2.7h-2.7zM160.2 217.2h2.7v2.7h-2.7zM160.8 260.1h2.7v2.7h-2.7zM161.5 237.9h2.7v2.7h-2.7zM162.1 216.3h2.7v2.7h-2.7zM162.8 219.0h2.7v2.7h-2.7zM163.5 218.7h2.7v2.7h-2.7zM164.1 221.7h2.7v2.7h-2.7zM164.8 245.1h2.7v2.7h-2.7zM165.5 264.5h2.7v2.7h-2.7zM166.1 237.0h2.7v2.7h-2.7zM166.8 260.6h2.7v2.7h-2.7zM167.5 222.3h2.7v2.7h-2.7zM168.1 261.3h2.7v2.7h-2.7zM168.8 248.5h2.7v2.7h-2.7zM169.5 257.1h2.7v2.7h-2.7zM170.1 268.1h2.7v2.7h-2.7zM170.8 244.0h2.7v2.7h-2.7zM171.4 253.5h2.7v2.7h-2.7zM172.1 214.9h2.7v2.7h-2.7zM172.8 229.6h2.7v2.7h-2.7zM173.4 241.7h2.7v2.7h-2.7zM174.1 227.6h2.7v2.7h-2.7zM174.8 227.9h2.7v2.7h-2.7zM175.4 247.6h2.7v2.7h-2.7zM176.1 229.9h2.7v2.7h-2.7zM176.8 226.0h2.7v2.7h-2.7zM177.4 235.6h2.7v2.7h-2.7zM178.1 249.2h2.7v2.7h-2.7zM178.8 227.9h2.7v2.7h-2.7zM179.4 220.4h2.7v2.7h-2.7zM180.1 249.6h2.7v2.7h-2.7zM180.7 256.2h2.7v2.7h-2.7zM181.4 225.6h2.7v2.7h-2.7zM182.1 235.9h2.7v2.7h-2.7zM182.7 253.6h2.7v2.7h-2.7zM183.4 240.0h2.7v2.7h-2.7zM184.1 253.6h2.7v2.7h-2.7zM184.7 225.5h2.7v2.7h-2.7zM185.4 246.8h2.7v2.7h-2.7zM186.1 253.8h2.7v2.7h-2.7zM186.7 258.2h2.7v2.7h-2.7zM187.4 256.8h2.7v2.7h-2.7zM188.0 223.0h2.7v2.7h-2.7zM188.7 257.6h2.7v2.7h-2.7zM189.4 244.7h2.7v2.7h-2.7zM190.0 224.4h2.7v2.7h-2.7zM190.7 267.8h2.7v2.7h-2.7zM191.4 250.0h2.7v2.7h-2.7zM192.0 229.1h2.7v2.7h-2.7zM192.7 266.8h2.7v2.7h-2.7zM193.4 220.0h2.7v2.7h-2.7zM194.0 225.7h2.7v2.7h-2.7zM194.7 262.8h2.7v2.7h-2.7zM195.4 237.4h2.7v2.7h-2.7zM196.0 245.4h2.7v2.7h-2.7zM196.7 232.1h2.7v2.7h-2.7zM197.3 254.7h2.7v2.7h-2.7zM198.0 253.8h2.7v2.7h-2.7zM198.7 258.6h2.7v2.7h-2.7zM199.3 258.1h2.7v2.7h-2.7zM200.0 259.6h2.7v2.7h-2.7zM200.7 227.4h2.7v2.7h-2.7zM201.3 228.9h2.7v2.7h-2.7zM202.0 254.9h2.7v2.7h-2.7zM202.7 252.5h2.7v2.7h-2.7zM203.3 246.8h2.7v2.7h-2.7zM204.0 264.2h2.7v2.7h-2.7zM204.7 252.9h2.7v2.7h-2.7zM205.3 222.1h2.7v2.7h-2.7zM206.0 253.5h2.7v2.7h-2.7zM206.6 245.7h2.7v2.7h-2.7zM207.3 228.8h2.7v2.7h-2.7zM208.0 257.6h2.7v2.7h-2.7zM208.6 236.6h2.7v2.7h-2.7zM209.3 267.9h2.7v2.7h-2.7zM210.0 241.9h2.7v2.7h-2.7zM210.6 230.5h2.7v2.7h-2.7zM211.3 234.0h2.7v2.7h-2.7zM212.0 224.3h2.7v2.7h-2.7zM212.6 241.0h2.7v2.7h-2.7zM213.3 228.1h2.7v2.7h-2.7zM214.0 260.4h2.7v2.7h-2.7zM214.6 247.2h2.7v2.7h-2.7zM215.3 259.7h2.7v2.7h-2.7zM215.9 268.0h2.7v2.7h-2.7zM216.6 256.0h2.7v2.7h-2.7zM217.3 244.2h2.7v2.7h-2.7zM217.9 232.1h2.7v2.7h-2.7zM218.6 273.9h2.7v2.7h-2.7zM219.3 233.0h2.7v2.7h-2.7zM219.9 257.2h2.7v2.7h-2.7zM220.6 257.0h2.7v2.7h-2.7zM221.3 235.3h2.7v2.7h-2.7zM221.9 236.5h2.7v2.7h-2.7zM222.6 232.9h2.7v2.7h-2.7zM223.2 258.8h2.7v2.7h-2.7zM223.9 252.7h2.7v2.7h-2.7zM224.6 239.2h2.7v2.7h-2.7zM225.2 265.6h2.7v2.7h-2.7zM225.9 245.6h2.7v2.7h-2.7zM226.6 240.0h2.7v2.7h-2.7zM227.2 254.3h2.7v2.7h-2.7zM227.9 238.0h2.7v2.7h-2.7zM228.6 264.7h2.7v2.7h-2.7zM229.2 249.8h2.7v2.7h-2.7zM229.9 250.6h2.7v2.7h-2.7zM230.6 269.1h2.7v2.7h-2.7zM231.2 251.1h2.7v2.7h-2.7zM231.9 247.1h2.7v2.7h-2.7zM232.5 243.9h2.7v2.7h-2.7zM233.2 270.9h2.7v2.7h-2.7zM233.9 237.8h2.7v2.7h-2.7zM234.5 240.3h2.7v2.7h-2.7zM235.2 292.2h2.7v2.7h-2.7zM235.9 240.8h2.7v2.7h-2.7zM236.5 257.9h2.7v2.7h-2.7zM237.2 271.8h2.7v2.7h-2.7zM237.9 242.6h2.7v2.7h-2.7zM238.5 260.3h2.7v2.7h-2.7zM239.2 249.6h2.7v2.7h-2.7zM239.9 243.1h2.7v2.7h-2.7zM240.5 253.3h2.7v2.7h-2.7zM241.2 285.3h2.7v2.7h-2.7zM241.8 248.8h2.7v2.7h-2.7zM242.5 258.6h2.7v2.7h-2.7zM243.2 237.5h2.7v2.7h-2.7zM243.8 267.6h2.7v2.7h-2.7zM244.5 247.2h2.7v2.7h-2.7zM245.2 251.4h2.7v2.7h-2.7zM245.8 269.5h2.7v2.7h-2.7zM246.5 269.0h2.7v2.7h-2.7zM247.2 271.6h2.7v2.7h-2.7zM247.8 287.7h2.7v2.7h-2.7zM248.5 275.2h2.7v2.7h-2.7zM249.1 274.8h2.7v2.7h-2.7zM249.8 280.3h2.7v2.7h-2.7zM250.5 253.9h2.7v2.7h-2.7zM251.1 271.5h2.7v2.7h-2.7zM251.8 264.9h2.7v2.7h-2.7zM252.5 279.3h2.7v2.7h-2.7zM253.1 271.4h2.7v2.7h-2.7zM253.8 258.7h2.7v2.7h-2.7zM254.5 269.5h2.7v2.7h-2.7zM255.1 267.1h2.7v2.7h-2.7zM255.8 279.6h2.7v2.7h-2.7zM256.5 264.6h2.7v2.7h-2.7zM257.1 257.7h2.7v2.7h-2.7zM257.8 279.4h2.7v2.7h-2.7zM258.4 269.7h2.7v2.7h-2.7zM259.1 270.9h2.7v2.7h-2.7zM259.8 295.3h2.7v2.7h-2.7zM260.4 255.2h2.7v2.7h-2.7zM261.1 277.5h2.7v2.7h-2.7zM261.8 290.7h2.7v2.7h-2.7zM262.4 260.7h2.7v2.7h-2.7zM263.1 262.7h2.7v2.7h-2.7zM263.8 269.0h2.7v2.7h-2.7zM264.4 260.0h2.7v2.7h-2.7zM265.1 294.5h2.7v2.7h-2.7zM265.8 279.6h2.7v2.7h-2.7zM266.4 267.7h2.7v2.7h-2.7zM267.1 258.1h2.7v2.7h-2.7zM267.7 273.1h2.7v2.7h-2.7zM268.4 277.3h2.7v2.7h-2.7zM269.1 289.9h2.7v2.7h-2.7zM269.7 277.3h2.7v2.7h-2.7zM270.4 277.9h2.7v2.7h-2.7zM271.1 265.3h2.7v2.7h-2.7zM271.7 271.3h2.7v2.7h-2.7zM272.4 270.7h2.7v2.7h-2.7zM273.1 255.3h2.7v2.7h-2.7zM273.7 305.1h2.7v2.7h-2.7zM274.4 271.8h2.7v2.7h-2.7zM275.1 285.8h2.7v2.7h-2.7zM275.7 285.2h2.7v2.7h-2.7zM276.4 295.4h2.7v2.7h-2.7zM277.0 291.7h2.7v2.7h-2.7zM277.7 268.1h2.7v2.7h-2.7zM278.4 310.3h2.7v2.7h-2.7zM279.0 301.6h2.7v2.7h-2.7zM279.7 291.2h2.7v2.7h-2.7zM280.4 274.1h2.7v2.7h-2.7zM281.0 303.5h2.7v2.7h-2.7zM281.7 277.5h2.7v2.7h-2.7zM282.4 309.1h2.7v2.7h-2.7zM283.0 302.6h2.7v2.7h-2.7zM283.7 288.2h2.7v2.7h-2.7zM284.3 279.7h2.7v2.7h-2.7zM285.0 275.3h2.7v2.7h-2.7zM285.7 277.8h2.7v2.7h-2.7zM286.3 302.9h2.7v2.7h-2.7zM287.0 282.2h2.7v2.7h-2.7zM287.7 285.3h2.7v2.7h-2.7zM288.3 299.5h2.7v2.7h-2.7zM289.0 287.6h2.7v2.7h-2.7zM289.7 281.5h2.7v2.7h-2.7zM290.3 301.2h2.7v2.7h-2.7zM291.0 282.1h2.7v2.7h-2.7zM291.7 318.5h2.7v2.7h-2.7zM292.3 321.5h2.7v2.7h-2.7zM293.0 300.9h2.7v2.7h-2.7zM293.6 316.6h2.7v2.7h-2.7zM294.3 310.3h2.7v2.7h-2.7zM295.0 306.9h2.7v2.7h-2.7zM295.6 323.7h2.7v2.7h-2.7zM296.3 304.2h2.7v2.7h-2.7zM297.0 296.4h2.7v2.7h-2.7zM297.6 323.3h2.7v2.7h-2.7zM298.3 322.2h2.7v2.7h-2.7zM299.0 292.9h2.7v2.7h-2.7zM299.6 288.1h2.7v2.7h-2.7zM300.3 303.0h2.7v2.7h-2.7zM301.0 311.5h2.7v2.7h-2.7zM301.6 320.7h2.7v2.7h-2.7zM302.3 318.2h2.7v2.7h-2.7zM302.9 329.0h2.7v2.7h-2.7zM303.6 322.1h2.7v2.7h-2.7zM304.3 334.3h2.7v2.7h-2.7zM304.9 339.1h2.7v2.7h-2.7zM305.6 329.9h2.7v2.7h-2.7zM306.3 342.3h2.7v2.7h-2.7zM306.9 330.4h2.7v2.7h-2.7zM307.6 319.6h2.7v2.7h-2.7zM308.3 316.0h2.7v2.7h-2.7zM308.9 305.1h2.7v2.7h-2.7zM309.6 308.2h2.7v2.7h-2.7zM310.2 329.4h2.7v2.7h-2.7zM310.9 314.3h2.7v2.7h-2.7zM311.6 334.7h2.7v2.7h-2.7zM312.2 317.8h2.7v2.7h-2.7zM312.9 344.4h2.7v2.7h-2.7zM313.6 329.0h2.7v2.7h-2.7zM314.2 314.2h2.7v2.7h-2.7zM314.9 332.5h2.7v2.7h-2.7zM315.6 338.4h2.7v2.7h-2.7zM316.2 325.0h2.7v2.7h-2.7zM316.9 352.7h2.7v2.7h-2.7zM317.6 325.4h2.7v2.7h-2.7zM318.2 366.3h2.7v2.7h-2.7zM318.9 359.9h2.7v2.7h-2.7zM319.5 365.3h2.7v2.7h-2.7zM320.2 362.2h2.7v2.7h-2.7zM320.9 332.1h2.7v2.7h-2.7zM321.5 376.0h2.7v2.7h-2.7zM322.2 368.7h2.7v2.7h-2.7zM322.9 357.1h2.7v2.7h-2.7zM323.5 357.2h2.7v2.7h-2.7zM324.2 352.5h2.7v2.7h-2.7zM324.9 378.0h2.7v2.7h-2.7zM325.5 396.4h2.7v2.7h-2.7zM326.2 357.8h2.7v2.7h-2.7zM326.9 398.3h2.7v2.7h-2.7zM327.5 408.9h2.7v2.7h-2.7zM328.2 400.7h2.7v2.7h-2.7zM328.8 394.8h2.7v2.7h-2.7zM329.5 366.2h2.7v2.7h-2.7zM330.2 385.3h2.7v2.7h-2.7zM330.8 404.4h2.7v2.7h-2.7zM331.5 402.0h2.7v2.7h-2.7zM332.2 402.4h2.7v2.7h-2.7zM332.8 400.8h2.7v2.7h-2.7zM333.5 430.2h2.7v2.7h-2.7zM334.2 451.0h2.7v2.7h-2.7zM334.8 442.9h2.7v2.7h-2.7zM335.5 425.6h2.7v2.7h-2.7zM336.1 441.4h2.7v2.7h-2.7zM336.8 452.5h2.7v2.7h-2.7zM337.5 489.7h2.7v2.7h-2.7zM338.1 460.3h2.7v2.7h-2.7zM338.8 511.4h2.7v2.7h-2.7zM339.5 489.2h2.7v2.7h-2.7zM340.1 519.8h2.7v2.7h-2.7zM340.8 505.9h2.7v2.7h-2.7zM341.5 487.7h2.7v2.7h-2.7zM342.1 484.6h2.7v2.7h-2.7zM342.8 463.9h2.7v2.7h-2.7zM343.5 475.0h2.7v2.7h-2.7zM344.1 447.1h2.7v2.7h-2.7zM344.8 443.2h2.7v2.7h-2.7zM345.4 453.0h2.7v2.7h-2.7zM346.1 449.3h2.7v2.7h-2.7zM346.8 413.4h2.7v2.7h-2.7zM347.4 427.6h2.7v2.7h-2.7zM348.1 401.6h2.7v2.7h-2.7zM348.8 422.1h2.7v2.7h-2.7zM349.4 430.2h2.7v2.7h-2.7zM350.1 381.9h2.7v2.7h-2.7zM350.8 405.6h2.7v2.7h-2.7zM351.4 393.7h2.7v2.7h-2.7zM352.1 401.6h2.7v2.7h-2.7zM352.8 394.5h2.7v2.7h-2.7zM353.4 389.1h2.7v2.7h-2.7zM354.1 365.0h2.7v2.7h-2.7zM354.7 394.9h2.7v2.7h-2.7zM355.4 363.0h2.7v2.7h-2.7zM356.1 348.0h2.7v2.7h-2.7zM356.7 368.8h2.7v2.7h-2.7zM357.4 366.9h2.7v2.7h-2.7zM358.1 372.2h2.7v2.7h-2.7zM358.7 373.5h2.7v2.7h-2.7zM359.4 370.0h2.7v2.7h-2.7zM360.1 338.2h2.7v2.7h-2.7zM360.7 377.1h2.7v2.7h-2.7zM361.4 334.1h2.7v2.7h-2.7zM362.1 340.4h2.7v2.7h-2.7zM362.7 369.9h2.7v2.7h-2.7zM363.4 358.7h2.7v2.7h-2.7zM364.0 327.9h2.7v2.7h-2.7zM364.7 334.0h2.7v2.7h-2.7zM365.4 341.3h2.7v2.7h-2.7zM366.0 321.0h2.7v2.7h-2.7zM366.7 348.5h2.7v2.7h-2.7zM367.4 335.7h2.7v2.7h-2.7zM368.0 351.7h2.7v2.7h-2.7zM368.7 325.7h2.7v2.7h-2.7zM369.4 348.3h2.7v2.7h-2.7zM370.0 336.5h2.7v2.7h-2.7zM370.7 309.5h2.7v2.7h-2.7zM371.3 327.3h2.7v2.7h-2.7zM372.0 311.8h2.7v2.7h-2.7zM372.7 314.2h2.7v2.7h-2.7zM373.3 317.4h2.7v2.7h-2.7zM374.0 332.7h2.7v2.7h-2.7zM374.7 311.9h2.7v2.7h-2.7zM375.3 328.6h2.7v2.7h-2.7zM376.0 329.5h2.7v2.7h-2.7zM376.7 326.4h2.7v2.7h-2.7zM377.3 330.6h2.7v2.7h-2.7zM378.0 336.9h2.7v2.7h-2.7zM378.7 311.3h2.7v2.7h-2.7zM379.3 317.0h2.7v2.7h-2.7zM380.0 316.9h2.7v2.7h-2.7zM380.6 315.8h2.7v2.7h-2.7zM381.3 323.1h2.7v2.7h-2.7zM382.0 307.4h2.7v2.7h-2.7zM382.6 301.0h2.7v2.7h-2.7zM383.3 291.1h2.7v2.7h-2.7zM384.0 326.0h2.7v2.7h-2.7zM384.6 293.1h2.7v2.7h-2.7zM385.3 286.9h2.7v2.7h-2.7zM386.0 309.1h2.7v2.7h-2.7zM386.6 294.0h2.7v2.7h-2.7zM387.3 295.5h2.7v2.7h-2.7zM388.0 295.7h2.7v2.7h-2.7zM388.6 313.1h2.7v2.7h-2.7zM389.3 299.9h2.7v2.7h-2.7zM389.9 282.8h2.7v2.7h-2.7zM390.6 319.6h2.7v2.7h-2.7zM391.3 306.8h2.7v2.7h-2.7zM391.9 324.6h2.7v2.7h-2.7zM392.6 275.8h2.7v2.7h-2.7zM393.3 291.0h2.7v2.7h-2.7zM393.9 316.0h2.7v2.7h-2.7zM394.6 282.6h2.7v2.7h-2.7zM395.3 284.2h2.7v2.7h-2.7zM395.9 316.1h2.7v2.7h-2.7zM396.6 294.0h2.7v2.7h-2.7zM397.2 284.2h2.7v2.7h-2.7zM397.9 296.7h2.7v2.7h-2.7zM398.6 294.3h2.7v2.7h-2.7zM399.2 274.7h2.7v2.7h-2.7zM399.9 280.6h2.7v2.7h-2.7zM400.6 285.6h2.7v2.7h-2.7zM401.2 307.3h2.7v2.7h-2.7zM401.9 308.1h2.7v2.7h-2.7zM402.6 271.0h2.7v2.7h-2.7zM403.2 276.4h2.7v2.7h-2.7zM403.9 268.8h2.7v2.7h-2.7zM404.6 287.9h2.7v2.7h-2.7zM405.2 282.1h2.7v2.7h-2.7zM405.9 284.6h2.7v2.7h-2.7zM406.5 278.7h2.7v2.7h-2.7zM407.2 290.9h2.7v2.7h-2.7zM407.9 283.6h2.7v2.7h-2.7zM408.5 286.0h2.7v2.7h-2.7zM409.2 273.7h2.7v2.7h-2.7zM409.9 300.2h2.7v2.7h-2.7zM410.5 302.7h2.7v2.7h-2.7zM411.2 297.4h2.7v2.7h-2.7zM411.9 293.4h2.7v2.7h-2.7zM412.5 259.6h2.7v2.7h-2.7zM413.2 274.3h2.7v2.7h-2.7zM413.9 273.5h2.7v2.7h-2.7zM414.5 279.6h2.7v2.7h-2.7zM415.2 293.4h2.7v2.7h-2.7zM415.8 270.2h2.7v2.7h-2.7zM416.5 257.9h2.7v2.7h-2.7zM417.2 279.0h2.7v2.7h-2.7zM417.8 266.4h2.7v2.7h-2.7zM418.5 283.8h2.7v2.7h-2.7zM419.2 295.8h2.7v2.7h-2.7zM419.8 257.9h2.7v2.7h-2.7zM420.5 272.8h2.7v2.7h-2.7zM421.2 276.9h2.7v2.7h-2.7zM421.8 280.9h2.7v2.7h-2.7zM422.5 256.0h2.7v2.7h-2.7zM423.2 278.4h2.7v2.7h-2.7zM423.8 262.7h2.7v2.7h-2.7zM424.5 285.2h2.7v2.7h-2.7zM425.1 264.2h2.7v2.7h-2.7zM425.8 269.4h2.7v2.7h-2.7zM426.5 264.2h2.7v2.7h-2.7zM427.1 247.5h2.7v2.7h-2.7zM427.8 257.5h2.7v2.7h-2.7zM428.5 256.5h2.7v2.7h-2.7zM429.1 277.1h2.7v2.7h-2.7zM429.8 245.6h2.7v2.7h-2.7zM430.5 268.8h2.7v2.7h-2.7zM431.1 242.2h2.7v2.7h-2.7zM431.8 246.4h2.7v2.7h-2.7zM432.4 253.9h2.7v2.7h-2.7zM433.1 247.9h2.7v2.7h-2.7zM433.8 259.3h2.7v2.7h-2.7zM434.4 258.1h2.7v2.7h-2.7zM435.1 278.1h2.7v2.7h-2.7zM435.8 232.7h2.7v2.7h-2.7zM436.4 251.3h2.7v2.7h-2.7zM437.1 278.7h2.7v2.7h-2.7zM437.8 269.8h2.7v2.7h-2.7zM438.4 254.4h2.7v2.7h-2.7zM439.1 247.0h2.7v2.7h-2.7zM439.8 282.8h2.7v2.7h-2.7zM440.4 237.9h2.7v2.7h-2.7zM441.1 271.6h2.7v2.7h-2.7zM441.7 240.9h2.7v2.7h-2.7zM442.4 246.0h2.7v2.7h-2.7zM443.1 260.9h2.7v2.7h-2.7zM443.7 261.6h2.7v2.7h-2.7zM444.4 263.9h2.7v2.7h-2.7zM445.1 273.3h2.7v2.7h-2.7zM445.7 249.1h2.7v2.7h-2.7zM446.4 248.8h2.7v2.7h-2.7zM447.1 241.5h2.7v2.7h-2.7zM447.7 267.0h2.7v2.7h-2.7zM448.4 239.1h2.7v2.7h-2.7zM449.1 269.6h2.7v2.7h-2.7zM449.7 238.9h2.7v2.7h-2.7zM450.4 237.8h2.7v2.7h-2.7zM451.0 274.7h2.7v2.7h-2.7zM451.7 244.6h2.7v2.7h-2.7zM452.4 251.1h2.7v2.7h-2.7zM453.0 243.7h2.7v2.7h-2.7zM453.7 238.9h2.7v2.7h-2.7zM454.4 248.3h2.7v2.7h-2.7zM455.0 249.3h2.7v2.7h-2.7zM455.7 260.8h2.7v2.7h-2.7zM456.4 234.4h2.7v2.7h-2.7zM457.0 240.9h2.7v2.7h-2.7zM457.7 258.9h2.7v2.7h-2.7zM458.3 235.7h2.7v2.7h-2.7zM459.0 263.2h2.7v2.7h-2.7zM459.7 270.7h2.7v2.7h-2.7zM460.3 263.8h2.7v2.7h-2.7zM461.0 255.7h2.7v2.7h-2.7zM461.7 264.3h2.7v2.7h-2.7zM462.3 259.7h2.7v2.7h-2.7zM463.0 268.5h2.7v2.7h-2.7z" fill="#000"/>
<polyline points="108.5,230.9 110.0,231.0 111.4,231.0 112.9,231.1 114.3,231.1 115.7,231.2 117.2,231.3 118.6,231.3 120.1,231.4 121.5,231.5 123.0,231.5 124.4,231.6 125.8,231.7 127.3,231.8 128.7,231.8 130.2,231.9 131.6,232.0 133.1,232.1 134.5,232.2 136.0,232.3 137.4,232.4 138.8,232.5 140.3,232.5 141.7,232.6 143.2,232.7 144.6,232.8 146.1,233.0 147.5,233.1 148.9,233.2 150.4,233.3 151.8,233.4 153.3,233.5 154.7,233.6 156.2,233.8 157.6,233.9 159.1,234.0 160.5,234.1 161.9,234.3 163.4,234.4 164.8,234.6 166.3,234.7 167.7,234.8 169.2,235.0 170.6,235.2 172.0,235.3 173.5,235.5 174.9,235.6 176.4,235.8 177.8,236.0 179.3,236.2 180.7,236.4 182.2,236.5 183.6,236.7 185.0,236.9 186.5,237.1 187.9,237.3 189.4,237.6 190.8,237.8 192.3,238.0 193.7,238.2 195.1,238.5 196.6,238.7 198.0,238.9 199.5,239.2 200.9,239.4 202.4,239.7 203.8,240.0 205.3,240.3 206.7,240.5 208.1,240.8 209.6,241.1 211.0,241.4 212.5,241.7 213.9,242.1 215.4,242.4 216.8,242.7 218.2,243.1 219.7,243.4 221.1,243.8 222.6,244.2 224.0,244.6 225.5,245.0 226.9,245.4 228.4,245.8 229.8,246.2 231.2,246.7 232.7,247.1 234.1,247.6 235.6,248.1 237.0,248.6 238.5,249.1 239.9,249.6 241.3,250.1 242.8,250.7 244.2,251.2 245.7,251.8 247.1,252.4 248.6,253.1 250.0,253.7 251.5,254.4 252.9,255.0 254.3,255.7 255.8,256.5 257.2,257.2 258.7,258.0 260.1,258.8 261.6,259.6 263.0,260.4 264.4,261.3 265.9,262.2 267.3,263.2 268.8,264.1 270.2,265.1 271.7,266.2 273.1,267.3 274.6,268.4 276.0,269.5 277.4,270.7 278.9,272.0 280.3,273.3 281.8,274.6 283.2,276.0 284.7,277.5 286.1,279.0 287.5,280.5 289.0,282.2 290.4,283.9 291.9,285.7 293.3,287.5 294.8,289.5 296.2,291.5 297.7,293.7 299.1,295.9 300.5,298.2 302.0,300.7 303.4,303.3 304.9,306.0 306.3,308.9 307.8,311.9 309.2,315.1 310.6,318.5 312.1,322.1 313.5,325.9 315.0,329.9 316.4,334.2 317.9,338.9 319.3,343.8 320.8,349.1 322.2,354.8 323.6,361.0 324.3,363.9 324.4,364.4 324.5,364.9 324.6,365.5 324.7,366.0 324.9,366.6 325.0,367.1 325.1,367.7 325.2,368.2 325.3,368.8 325.4,369.4 325.5,369.9 325.7,370.5 325.8,371.1 325.9,371.7 326.0,372.3 326.1,372.9 326.2,373.5 326.4,374.1 326.5,374.7 326.6,375.3 326.7,375.9 326.8,376.5 326.9,377.1 327.0,377.8 327.2,378.4 327.3,379.0 327.4,379.7 327.5,380.3 327.6,381.0 327.7,381.7 327.9,382.3 328.0,383.0 328.1,383.7 328.2,384.3 328.3,385.0 328.4,385.7 328.5,386.4 328.7,387.1 328.8,387.8 328.9,388.5 329.0,389.2 329.1,390.0 329.2,390.7 329.4,391.4 329.5,392.2 329.6,392.9 329.7,393.7 329.8,394.4 329.9,395.2 330.1,396.0 330.2,396.8 330.3,397.5 330.4,398.3 330.5,399.1 330.6,399.9 330.7,400.8 330.9,401.6 331.0,402.4 331.1,403.2 331.2,404.1 331.3,404.9 331.4,405.8 331.6,406.7 331.7,407.5 331.8,408.4 331.9,409.3 332.0,410.2 332.1,411.1 332.2,412.1 332.4,413.0 332.5,413.9 332.6,414.9 332.7,415.8 332.8,416.8 332.9,417.8 333.1,418.7 333.2,419.7 333.3,420.7 333.4,421.8 333.5,422.8 333.6,423.8 333.7,424.9 333.9,425.9 334.0,427.0 334.1,428.1 334.2,429.2 334.3,430.3 334.4,431.4 334.6,432.5 334.7,433.7 334.8,434.8 334.9,436.0 335.0,437.2 335.1,438.4 335.2,439.6 335.4,440.8 335.5,442.1 335.6,443.3 335.7,444.6 335.8,445.9 335.9,447.2 336.1,448.5 336.2,449.8 336.3,451.2 336.4,452.5 336.5,453.9 336.6,455.3 336.7,456.7 336.9,458.2 337.0,459.6 337.1,461.1 337.2,462.6 337.3,464.1 337.4,465.6 337.6,467.2 337.7,468.8 337.8,470.3 337.9,472.0 338.0,473.6 338.1,475.2 338.3,476.9 338.4,478.6 338.5,480.3 338.6,482.1 338.7,483.8 338.8,485.6 338.9,487.4 339.1,489.2 339.2,491.0 339.3,492.9 339.4,494.8 339.5,496.6 339.6,498.5 339.8,500.4 339.9,502.3 340.0,504.2 340.1,506.1 340.2,508.0 340.3,509.8 340.4,511.6 340.6,513.4 340.7,515.1 340.8,516.7 340.9,518.3 341.0,519.7 341.1,520.9 341.3,521.9 341.4,522.7 341.5,523.1 341.6,523.3 341.7,523.1 341.8,522.7 341.9,521.9 342.1,520.9 342.2,519.7 342.3,518.3 342.4,516.7 342.5,515.1 342.6,513.4 342.8,511.6 342.9,509.8 343.0,508.0 343.1,506.1 343.2,504.2 343.3,502.3 343.4,500.4 343.6,498.5 343.7,496.6 343.8,494.8 343.9,492.9 344.0,491.0 344.1,489.2 344.3,487.4 344.4,485.6 344.5,483.8 344.6,482.1 344.7,480.3 344.8,478.6 344.9,476.9 345.1,475.2 345.2,473.6 345.3,472.0 345.4,470.3 345.5,468.8 345.6,467.2 345.8,465.6 345.9,464.1 346.0,462.6 346.1,461.1 346.2,459.6 346.3,458.2 346.5,456.7 346.6,455.3 346.7,453.9 346.8,452.5 346.9,451.2 347.0,449.8 347.1,448.5 347.3,447.2 347.4,445.9 347.5,444.6 347.6,443.3 347.7,442.1 347.8,440.8 348.0,439.6 348.1,438.4 348.2,437.2 348.3,436.0 348.4,434.8 348.5,433.7 348.6,432.5 348.8,431.4 348.9,430.3 349.0,429.2 349.1,428.1 349.2,427.0 349.3,425.9 349.5,424.9 349.6,423.8 349.7,422.8 349.8,421.8 349.9,420.7 350.0,419.7 350.1,418.7 350.3,417.8 350.4,416.8 350.5,415.8 350.6,414.9 350.7,413.9 350.8,413.0 351.0,412.1 351.1,411.1 351.2,410.2 351.3,409.3 351.4,408.4 351.5,407.5 351.6,406.7 351.8,405.8 351.9,404.9 352.0,404.1 352.1,403.2 352.2,402.4 352.3,401.6 352.5,400.8 352.6,399.9 352.7,399.1 352.8,398.3 352.9,397.5 353.0,396.8 353.2,396.0 353.3,395.2 353.4,394.4 353.5,393.7 353.6,392.9 353.7,392.2 353.8,391.4 354.0,390.7 354.1,390.0 354.2,389.2 354.3,388.5 354.4,387.8 354.5,387.1 354.7,386.4 354.8,385.7 354.9,385.0 355.0,384.3 355.1,383.7 355.2,383.0 355.3,382.3 355.5,381.7 355.6,381.0 355.7,380.3 355.8,379.7 355.9,379.0 356.0,378.4 356.2,377.8 356.3,377.1 356.4,376.5 356.5,375.9 356.6,375.3 356.7,374.7 356.8,374.1 357.0,373.5 357.1,372.9 357.2,372.3 357.3,371.7 357.4,371.1 357.5,370.5 357.7,369.9 357.8,369.4 357.9,368.8 358.0,368.2 358.1,367.7 358.2,367.1 358.3,366.6 358.5,366.0 358.6,365.5 358.7,364.9 358.8,364.4 358.9,363.9 360.4,357.5 361.8,351.6 363.3,346.1 364.7,341.0 366.1,336.2 367.6,331.8 369.0,327.6 370.5,323.7 371.9,320.0 373.4,316.6 374.8,313.3 376.2,310.2 377.7,307.3 379.1,304.5 380.6,301.8 382.0,299.3 383.5,296.9 384.9,294.6 386.4,292.5 387.8,290.4 389.2,288.4 390.7,286.5 392.1,284.7 393.6,282.9 395.0,281.3 396.5,279.7 397.9,278.1 399.4,276.6 400.8,275.2 402.2,273.9 403.7,272.5 405.1,271.3 406.6,270.1 408.0,268.9 409.5,267.7 410.9,266.6 412.3,265.6 413.8,264.6 415.2,263.6 416.7,262.6 418.1,261.7 419.6,260.8 421.0,260.0 422.5,259.1 423.9,258.3 425.3,257.5 426.8,256.8 428.2,256.1 429.7,255.3 431.1,254.7 432.6,254.0 434.0,253.3 435.4,252.7 436.9,252.1 438.3,251.5 439.8,250.9 441.2,250.4 442.7,249.8 444.1,249.3 445.6,248.8 447.0,248.3 448.4,247.8 449.9,247.3 451.3,246.9 452.8,246.4 454.2,246.0 455.7,245.6 457.1,245.1 458.5,244.7 460.0,244.4 461.4,244.0 462.9,243.6 464.3,243.2 465.8,242.9 467.2,242.5" fill="none" stroke="#ff0000" stroke-width="2.45" stroke-dasharray="10.75 9.4" stroke-linejoin="round"/>
<path d="M107.7 292.4h2.6v2.6h-2.6zM108.4 292.8h2.6v2.6h-2.6zM109.1 292.1h2.6v2.6h-2.6zM109.7 293.5h2.6v2.6h-2.6zM110.4 292.0h2.6v2.6h-2.6zM111.1 292.2h2.6v2.6h-2.6zM111.7 292.5h2.6v2.6h-2.6zM112.4 292.9h2.6v2.6h-2.6zM113.1 291.9h2.6v2.6h-2.6zM113.7 294.3h2.6v2.6h-2.6zM114.4 292.0h2.6v2.6h-2.6zM115.0 292.3h2.6v2.6h-2.6zM115.7 292.3h2.6v2.6h-2.6zM116.4 292.2h2.6v2.6h-2.6zM117.0 293.4h2.6v2.6h-2.6zM117.7 293.0h2.6v2.6h-2.6zM118.4 292.1h2.6v2.6h-2.6zM119.0 292.4h2.6v2.6h-2.6zM119.7 292.7h2.6v2.6h-2.6zM120.4 294.5h2.6v2.6h-2.6zM121.0 292.4h2.6v2.6h-2.6zM121.7 291.7h2.6v2.6h-2.6zM122.4 292.0h2.6v2.6h-2.6zM123.0 292.8h2.6v2.6h-2.6zM123.7 294.8h2.6v2.6h-2.6zM124.3 292.2h2.6v2.6h-2.6zM125.0 293.4h2.6v2.6h-2.6zM125.7 296.0h2.6v2.6h-2.6zM126.3 292.9h2.6v2.6h-2.6zM127.0 295.0h2.6v2.6h-2.6zM127.7 294.8h2.6v2.6h-2.6zM128.3 294.2h2.6v2.6h-2.6zM129.0 292.1h2.6v2.6h-2.6zM129.7 294.0h2.6v2.6h-2.6zM130.3 293.3h2.6v2.6h-2.6zM131.0 291.8h2.6v2.6h-2.6zM131.6 292.0h2.6v2.6h-2.6zM132.3 293.9h2.6v2.6h-2.6zM133.0 294.1h2.6v2.6h-2.6zM133.6 295.2h2.6v2.6h-2.6zM134.3 294.7h2.6v2.6h-2.6zM135.0 293.5h2.6v2.6h-2.6zM135.6 293.6h2.6v2.6h-2.6zM136.3 293.9h2.6v2.6h-2.6zM137.0 293.0h2.6v2.6h-2.6zM137.6 295.0h2.6v2.6h-2.6zM138.3 294.3h2.6v2.6h-2.6zM139.0 293.5h2.6v2.6h-2.6zM139.6 293.7h2.6v2.6h-2.6zM140.3 293.2h2.6v2.6h-2.6zM140.9 294.0h2.6v2.6h-2.6zM141.6 294.8h2.6v2.6h-2.6zM142.3 294.2h2.6v2.6h-2.6zM142.9 295.7h2.6v2.6h-2.6zM143.6 296.4h2.6v2.6h-2.6zM144.3 294.1h2.6v2.6h-2.6zM144.9 294.8h2.6v2.6h-2.6zM145.6 294.5h2.6v2.6h-2.6zM146.3 296.7h2.6v2.6h-2.6zM146.9 295.3h2.6v2.6h-2.6zM147.6 295.7h2.6v2.6h-2.6zM148.3 296.0h2.6v2.6h-2.6zM148.9 297.6h2.6v2.6h-2.6zM149.6 295.5h2.6v2.6h-2.6zM150.2 294.3h2.6v2.6h-2.6zM150.9 294.9h2.6v2.6h-2.6zM151.6 296.0h2.6v2.6h-2.6zM152.2 295.4h2.6v2.6h-2.6zM152.9 294.7h2.6v2.6h-2.6zM153.6 298.5h2.6v2.6h-2.6zM154.2 295.8h2.6v2.6h-2.6zM154.9 295.1h2.6v2.6h-2.6zM155.6 295.0h2.6v2.6h-2.6zM156.2 294.0h2.6v2.6h-2.6zM156.9 294.7h2.6v2.6h-2.6zM157.6 295.6h2.6v2.6h-2.6zM158.2 295.7h2.6v2.6h-2.6zM158.9 295.2h2.6v2.6h-2.6zM159.5 296.7h2.6v2.6h-2.6zM160.2 296.3h2.6v2.6h-2.6zM160.9 295.3h2.6v2.6h-2.6zM161.5 294.2h2.6v2.6h-2.6zM162.2 296.6h2.6v2.6h-2.6zM162.9 296.5h2.6v2.6h-2.6zM163.5 296.3h2.6v2.6h-2.6zM164.2 295.2h2.6v2.6h-2.6zM164.9 296.7h2.6v2.6h-2.6zM165.5 295.2h2.6v2.6h-2.6zM166.2 297.9h2.6v2.6h-2.6zM166.8 297.1h2.6v2.6h-2.6zM167.5 297.2h2.6v2.6h-2.6zM168.2 296.2h2.6v2.6h-2.6zM168.8 296.0h2.6v2.6h-2.6zM169.5 298.8h2.6v2.6h-2.6zM170.2 298.3h2.6v2.6h-2.6zM170.8 297.0h2.6v2.6h-2.6zM171.5 298.1h2.6v2.6h-2.6zM172.2 299.2h2.6v2.6h-2.6zM172.8 296.5h2.6v2.6h-2.6zM173.5 297.1h2.6v2.6h-2.6zM174.2 297.2h2.6v2.6h-2.6zM174.8 298.3h2.6v2.6h-2.6zM175.5 296.8h2.6v2.6h-2.6zM176.1 298.3h2.6v2.6h-2.6zM176.8 296.9h2.6v2.6h-2.6zM177.5 299.1h2.6v2.6h-2.6zM178.1 299.2h2.6v2.6h-2.6zM178.8 298.1h2.6v2.6h-2.6zM179.5 299.2h2.6v2.6h-2.6zM180.1 297.8h2.6v2.6h-2.6zM180.8 298.3h2.6v2.6h-2.6zM181.5 299.7h2.6v2.6h-2.6zM182.1 298.7h2.6v2.6h-2.6zM182.8 299.2h2.6v2.6h-2.6zM183.5 298.0h2.6v2.6h-2.6zM184.1 299.7h2.6v2.6h-2.6zM184.8 299.6h2.6v2.6h-2.6zM185.4 297.9h2.6v2.6h-2.6zM186.1 296.9h2.6v2.6h-2.6zM186.8 297.3h2.6v2.6h-2.6zM187.4 299.5h2.6v2.6h-2.6zM188.1 299.4h2.6v2.6h-2.6zM188.8 298.1h2.6v2.6h-2.6zM189.4 300.0h2.6v2.6h-2.6zM190.1 301.0h2.6v2.6h-2.6zM190.8 299.9h2.6v2.6h-2.6zM191.4 299.7h2.6v2.6h-2.6zM192.1 301.1h2.6v2.6h-2.6zM192.7 302.1h2.6v2.6h-2.6zM193.4 302.0h2.6v2.6h-2.6zM194.1 299.9h2.6v2.6h-2.6zM194.7 301.5h2.6v2.6h-2.6zM195.4 300.9h2.6v2.6h-2.6zM196.1 300.7h2.6v2.6h-2.6zM196.7 300.3h2.6v2.6h-2.6zM197.4 301.5h2.6v2.6h-2.6zM198.1 300.7h2.6v2.6h-2.6zM198.7 302.3h2.6v2.6h-2.6zM199.4 301.9h2.6v2.6h-2.6zM200.1 302.7h2.6v2.6h-2.6zM200.7 300.5h2.6v2.6h-2.6zM201.4 301.9h2.6v2.6h-2.6zM202.0 302.7h2.6v2.6h-2.6zM202.7 302.5h2.6v2.6h-2.6zM203.4 302.4h2.6v2.6h-2.6zM204.0 301.6h2.6v2.6h-2.6zM204.7 304.2h2.6v2.6h-2.6zM205.4 303.7h2.6v2.6h-2.6zM206.0 303.1h2.6v2.6h-2.6zM206.7 300.1h2.6v2.6h-2.6zM207.4 301.9h2.6v2.6h-2.6zM208.0 303.2h2.6v2.6h-2.6zM208.7 302.5h2.6v2.6h-2.6zM209.4 301.2h2.6v2.6h-2.6zM210.0 303.8h2.6v2.6h-2.6zM210.7 304.1h2.6v2.6h-2.6zM211.3 302.5h2.6v2.6h-2.6zM212.0 303.4h2.6v2.6h-2.6zM212.7 303.4h2.6v2.6h-2.6zM213.3 304.8h2.6v2.6h-2.6zM214.0 302.3h2.6v2.6h-2.6zM214.7 302.7h2.6v2.6h-2.6zM215.3 304.1h2.6v2.6h-2.6zM216.0 304.1h2.6v2.6h-2.6zM216.7 307.2h2.6v2.6h-2.6zM217.3 304.5h2.6v2.6h-2.6zM218.0 305.5h2.6v2.6h-2.6zM218.6 305.0h2.6v2.6h-2.6zM219.3 304.9h2.6v2.6h-2.6zM220.0 306.2h2.6v2.6h-2.6zM220.6 307.8h2.6v2.6h-2.6zM221.3 305.7h2.6v2.6h-2.6zM222.0 307.1h2.6v2.6h-2.6zM222.6 306.8h2.6v2.6h-2.6zM223.3 307.3h2.6v2.6h-2.6zM224.0 307.2h2.6v2.6h-2.6zM224.6 309.5h2.6v2.6h-2.6zM225.3 305.9h2.6v2.6h-2.6zM226.0 307.1h2.6v2.6h-2.6zM226.6 306.3h2.6v2.6h-2.6zM227.3 305.6h2.6v2.6h-2.6zM227.9 307.9h2.6v2.6h-2.6zM228.6 310.0h2.6v2.6h-2.6zM229.3 309.3h2.6v2.6h-2.6zM229.9 309.8h2.6v2.6h-2.6zM230.6 309.2h2.6v2.6h-2.6zM231.3 308.8h2.6v2.6h-2.6zM231.9 311.2h2.6v2.6h-2.6zM232.6 308.9h2.6v2.6h-2.6zM233.3 311.1h2.6v2.6h-2.6zM233.9 309.4h2.6v2.6h-2.6zM234.6 310.0h2.6v2.6h-2.6zM235.3 310.5h2.6v2.6h-2.6zM235.9 310.4h2.6v2.6h-2.6zM236.6 311.2h2.6v2.6h-2.6zM237.2 311.5h2.6v2.6h-2.6zM237.9 312.8h2.6v2.6h-2.6zM238.6 311.3h2.6v2.6h-2.6zM239.2 309.5h2.6v2.6h-2.6zM239.9 309.6h2.6v2.6h-2.6zM240.6 310.5h2.6v2.6h-2.6zM241.2 311.4h2.6v2.6h-2.6zM241.9 313.2h2.6v2.6h-2.6zM242.6 311.1h2.6v2.6h-2.6zM243.2 313.0h2.6v2.6h-2.6zM243.9 313.3h2.6v2.6h-2.6zM244.6 313.8h2.6v2.6h-2.6zM245.2 313.6h2.6v2.6h-2.6zM245.9 314.4h2.6v2.6h-2.6zM246.5 314.3h2.6v2.6h-2.6zM247.2 315.7h2.6v2.6h-2.6zM247.9 315.2h2.6v2.6h-2.6zM248.5 312.6h2.6v2.6h-2.6zM249.2 315.4h2.6v2.6h-2.6zM249.9 315.9h2.6v2.6h-2.6zM250.5 315.3h2.6v2.6h-2.6zM251.2 315.4h2.6v2.6h-2.6zM251.9 317.7h2.6v2.6h-2.6zM252.5 317.0h2.6v2.6h-2.6zM253.2 316.1h2.6v2.6h-2.6zM253.8 317.1h2.6v2.6h-2.6zM254.5 317.6h2.6v2.6h-2.6zM255.2 316.4h2.6v2.6h-2.6zM255.8 319.1h2.6v2.6h-2.6zM256.5 318.6h2.6v2.6h-2.6zM257.2 319.5h2.6v2.6h-2.6zM257.8 317.7h2.6v2.6h-2.6zM258.5 321.7h2.6v2.6h-2.6zM259.2 320.7h2.6v2.6h-2.6zM259.8 320.9h2.6v2.6h-2.6zM260.5 319.9h2.6v2.6h-2.6zM261.2 320.3h2.6v2.6h-2.6zM261.8 319.8h2.6v2.6h-2.6zM262.5 323.4h2.6v2.6h-2.6zM263.1 321.2h2.6v2.6h-2.6zM263.8 322.7h2.6v2.6h-2.6zM264.5 323.5h2.6v2.6h-2.6zM265.1 322.6h2.6v2.6h-2.6zM265.8 324.5h2.6v2.6h-2.6zM266.5 326.1h2.6v2.6h-2.6zM267.1 324.7h2.6v2.6h-2.6zM267.8 326.3h2.6v2.6h-2.6zM268.5 325.8h2.6v2.6h-2.6zM269.1 325.1h2.6v2.6h-2.6zM269.8 325.6h2.6v2.6h-2.6zM270.5 324.6h2.6v2.6h-2.6zM271.1 326.9h2.6v2.6h-2.6zM271.8 328.8h2.6v2.6h-2.6zM272.4 328.4h2.6v2.6h-2.6zM273.1 329.0h2.6v2.6h-2.6zM273.8 329.8h2.6v2.6h-2.6zM274.4 328.5h2.6v2.6h-2.6zM275.1 330.1h2.6v2.6h-2.6zM275.8 332.0h2.6v2.6h-2.6zM276.4 329.6h2.6v2.6h-2.6zM277.1 331.0h2.6v2.6h-2.6zM277.8 330.9h2.6v2.6h-2.6zM278.4 331.7h2.6v2.6h-2.6zM279.1 331.7h2.6v2.6h-2.6zM279.7 332.8h2.6v2.6h-2.6zM280.4 332.1h2.6v2.6h-2.6zM281.1 333.5h2.6v2.6h-2.6zM281.7 334.1h2.6v2.6h-2.6zM282.4 334.6h2.6v2.6h-2.6zM283.1 337.2h2.6v2.6h-2.6zM283.7 336.4h2.6v2.6h-2.6zM284.4 337.1h2.6v2.6h-2.6zM285.1 337.2h2.6v2.6h-2.6zM285.7 339.5h2.6v2.6h-2.6zM286.4 336.9h2.6v2.6h-2.6zM287.1 339.2h2.6v2.6h-2.6zM287.7 341.3h2.6v2.6h-2.6zM288.4 342.5h2.6v2.6h-2.6zM289.0 341.6h2.6v2.6h-2.6zM289.7 342.1h2.6v2.6h-2.6zM290.4 343.5h2.6v2.6h-2.6zM291.0 343.4h2.6v2.6h-2.6zM291.7 344.9h2.6v2.6h-2.6zM292.4 344.4h2.6v2.6h-2.6zM293.0 346.6h2.6v2.6h-2.6zM293.7 346.6h2.6v2.6h-2.6zM294.4 346.3h2.6v2.6h-2.6zM295.0 345.5h2.6v2.6h-2.6zM295.7 350.2h2.6v2.6h-2.6zM296.4 350.4h2.6v2.6h-2.6zM297.0 351.7h2.6v2.6h-2.6zM297.7 350.9h2.6v2.6h-2.6zM298.3 353.9h2.6v2.6h-2.6zM299.0 354.1h2.6v2.6h-2.6zM299.7 354.5h2.6v2.6h-2.6zM300.3 356.5h2.6v2.6h-2.6zM301.0 357.5h2.6v2.6h-2.6zM301.7 358.0h2.6v2.6h-2.6zM302.3 360.8h2.6v2.6h-2.6zM303.0 361.2h2.6v2.6h-2.6zM303.7 361.2h2.6v2.6h-2.6zM304.3 361.7h2.6v2.6h-2.6zM305.0 363.2h2.6v2.6h-2.6zM305.7 366.1h2.6v2.6h-2.6zM306.3 365.9h2.6v2.6h-2.6zM307.0 365.8h2.6v2.6h-2.6zM307.6 367.4h2.6v2.6h-2.6zM308.3 369.4h2.6v2.6h-2.6zM309.0 371.6h2.6v2.6h-2.6zM309.6 371.4h2.6v2.6h-2.6zM310.3 374.1h2.6v2.6h-2.6zM311.0 376.2h2.6v2.6h-2.6zM311.6 377.4h2.6v2.6h-2.6zM312.3 376.5h2.6v2.6h-2.6zM313.0 379.4h2.6v2.6h-2.6zM313.6 380.1h2.6v2.6h-2.6zM314.3 383.6h2.6v2.6h-2.6zM314.9 383.8h2.6v2.6h-2.6zM315.6 387.3h2.6v2.6h-2.6zM316.3 388.7h2.6v2.6h-2.6zM316.9 387.9h2.6v2.6h-2.6zM317.6 391.7h2.6v2.6h-2.6zM318.3 395.2h2.6v2.6h-2.6zM318.9 396.9h2.6v2.6h-2.6zM319.6 398.7h2.6v2.6h-2.6zM320.3 400.0h2.6v2.6h-2.6zM320.9 404.2h2.6v2.6h-2.6zM321.6 408.1h2.6v2.6h-2.6zM322.3 409.0h2.6v2.6h-2.6zM322.9 411.4h2.6v2.6h-2.6zM323.6 414.0h2.6v2.6h-2.6zM324.2 415.5h2.6v2.6h-2.6zM324.9 419.5h2.6v2.6h-2.6zM325.6 422.1h2.6v2.6h-2.6zM326.2 427.3h2.6v2.6h-2.6zM326.9 428.5h2.6v2.6h-2.6zM327.6 430.6h2.6v2.6h-2.6zM328.2 435.6h2.6v2.6h-2.6zM328.9 439.8h2.6v2.6h-2.6zM329.6 443.8h2.6v2.6h-2.6zM330.2 446.1h2.6v2.6h-2.6zM330.9 453.2h2.6v2.6h-2.6zM331.6 456.7h2.6v2.6h-2.6zM332.2 460.6h2.6v2.6h-2.6zM332.9 465.1h2.6v2.6h-2.6zM333.5 471.4h2.6v2.6h-2.6zM334.2 475.7h2.6v2.6h-2.6zM334.9 481.8h2.6v2.6h-2.6zM335.5 487.0h2.6v2.6h-2.6zM336.2 493.0h2.6v2.6h-2.6zM336.9 500.0h2.6v2.6h-2.6zM337.5 504.8h2.6v2.6h-2.6zM338.2 509.6h2.6v2.6h-2.6zM338.9 516.9h2.6v2.6h-2.6zM339.5 520.2h2.6v2.6h-2.6zM340.2 521.2h2.6v2.6h-2.6zM340.8 522.1h2.6v2.6h-2.6zM341.5 517.2h2.6v2.6h-2.6zM342.2 513.6h2.6v2.6h-2.6zM342.8 505.6h2.6v2.6h-2.6zM343.5 498.4h2.6v2.6h-2.6zM344.2 492.8h2.6v2.6h-2.6zM344.8 489.4h2.6v2.6h-2.6zM345.5 482.7h2.6v2.6h-2.6zM346.2 477.9h2.6v2.6h-2.6zM346.8 472.6h2.6v2.6h-2.6zM347.5 466.1h2.6v2.6h-2.6zM348.2 464.3h2.6v2.6h-2.6zM348.8 457.1h2.6v2.6h-2.6zM349.5 453.9h2.6v2.6h-2.6zM350.1 448.1h2.6v2.6h-2.6zM350.8 445.3h2.6v2.6h-2.6zM351.5 442.4h2.6v2.6h-2.6zM352.1 437.6h2.6v2.6h-2.6zM352.8 433.5h2.6v2.6h-2.6zM353.5 430.8h2.6v2.6h-2.6zM354.1 427.0h2.6v2.6h-2.6zM354.8 424.9h2.6v2.6h-2.6zM355.5 423.5h2.6v2.6h-2.6zM356.1 417.3h2.6v2.6h-2.6zM356.8 414.7h2.6v2.6h-2.6zM357.5 412.5h2.6v2.6h-2.6zM358.1 409.9h2.6v2.6h-2.6zM358.8 406.3h2.6v2.6h-2.6zM359.4 405.4h2.6v2.6h-2.6zM360.1 403.3h2.6v2.6h-2.6zM360.8 400.4h2.6v2.6h-2.6zM361.4 396.6h2.6v2.6h-2.6zM362.1 397.2h2.6v2.6h-2.6zM362.8 392.3h2.6v2.6h-2.6zM363.4 392.2h2.6v2.6h-2.6zM364.1 390.7h2.6v2.6h-2.6zM364.8 386.2h2.6v2.6h-2.6zM365.4 385.8h2.6v2.6h-2.6zM366.1 385.3h2.6v2.6h-2.6zM366.7 382.5h2.6v2.6h-2.6zM367.4 379.3h2.6v2.6h-2.6zM368.1 377.4h2.6v2.6h-2.6zM368.7 377.5h2.6v2.6h-2.6zM369.4 375.0h2.6v2.6h-2.6zM370.1 373.1h2.6v2.6h-2.6zM370.7 373.1h2.6v2.6h-2.6zM371.4 370.5h2.6v2.6h-2.6zM372.1 369.5h2.6v2.6h-2.6zM372.7 368.7h2.6v2.6h-2.6zM373.4 367.2h2.6v2.6h-2.6zM374.1 365.3h2.6v2.6h-2.6zM374.7 364.1h2.6v2.6h-2.6zM375.4 363.4h2.6v2.6h-2.6zM376.0 362.0h2.6v2.6h-2.6zM376.7 359.2h2.6v2.6h-2.6zM377.4 359.0h2.6v2.6h-2.6zM378.0 357.1h2.6v2.6h-2.6zM378.7 355.6h2.6v2.6h-2.6zM379.4 355.2h2.6v2.6h-2.6zM380.0 352.3h2.6v2.6h-2.6zM380.7 354.6h2.6v2.6h-2.6zM381.4 351.8h2.6v2.6h-2.6zM382.0 352.0h2.6v2.6h-2.6zM382.7 348.6h2.6v2.6h-2.6zM383.4 347.8h2.6v2.6h-2.6zM384.0 350.8h2.6v2.6h-2.6zM384.7 348.8h2.6v2.6h-2.6zM385.3 346.2h2.6v2.6h-2.6zM386.0 345.1h2.6v2.6h-2.6zM386.7 344.3h2.6v2.6h-2.6zM387.3 344.3h2.6v2.6h-2.6zM388.0 342.9h2.6v2.6h-2.6zM388.7 341.9h2.6v2.6h-2.6zM389.3 341.9h2.6v2.6h-2.6zM390.0 339.9h2.6v2.6h-2.6zM390.7 342.7h2.6v2.6h-2.6zM391.3 338.8h2.6v2.6h-2.6zM392.0 339.8h2.6v2.6h-2.6zM392.7 336.9h2.6v2.6h-2.6zM393.3 337.5h2.6v2.6h-2.6zM394.0 337.5h2.6v2.6h-2.6zM394.6 335.5h2.6v2.6h-2.6zM395.3 336.2h2.6v2.6h-2.6zM396.0 335.5h2.6v2.6h-2.6zM396.6 335.5h2.6v2.6h-2.6zM397.3 333.2h2.6v2.6h-2.6zM398.0 332.0h2.6v2.6h-2.6zM398.6 330.9h2.6v2.6h-2.6zM399.3 331.5h2.6v2.6h-2.6zM400.0 329.6h2.6v2.6h-2.6zM400.6 330.1h2.6v2.6h-2.6zM401.3 329.7h2.6v2.6h-2.6zM401.9 328.4h2.6v2.6h-2.6zM402.6 327.3h2.6v2.6h-2.6zM403.3 328.3h2.6v2.6h-2.6zM403.9 327.6h2.6v2.6h-2.6zM404.6 327.0h2.6v2.6h-2.6zM405.3 326.2h2.6v2.6h-2.6zM405.9 326.8h2.6v2.6h-2.6zM406.6 324.2h2.6v2.6h-2.6zM407.3 325.3h2.6v2.6h-2.6zM407.9 323.9h2.6v2.6h-2.6zM408.6 324.8h2.6v2.6h-2.6zM409.3 323.0h2.6v2.6h-2.6zM409.9 322.5h2.6v2.6h-2.6zM410.6 323.0h2.6v2.6h-2.6zM411.2 319.9h2.6v2.6h-2.6zM411.9 321.3h2.6v2.6h-2.6zM412.6 319.3h2.6v2.6h-2.6zM413.2 319.8h2.6v2.6h-2.6zM413.9 321.1h2.6v2.6h-2.6zM414.6 320.4h2.6v2.6h-2.6zM415.2 319.2h2.6v2.6h-2.6zM415.9 319.2h2.6v2.6h-2.6zM416.6 318.8h2.6v2.6h-2.6zM417.2 318.8h2.6v2.6h-2.6zM417.9 320.1h2.6v2.6h-2.6zM418.6 318.0h2.6v2.6h-2.6zM419.2 319.8h2.6v2.6h-2.6zM419.9 316.7h2.6v2.6h-2.6zM420.5 317.6h2.6v2.6h-2.6zM421.2 317.2h2.6v2.6h-2.6zM421.9 316.4h2.6v2.6h-2.6zM422.5 315.5h2.6v2.6h-2.6zM423.2 317.1h2.6v2.6h-2.6zM423.9 317.1h2.6v2.6h-2.6zM424.5 316.1h2.6v2.6h-2.6zM425.2 316.8h2.6v2.6h-2.6zM425.9 315.4h2.6v2.6h-2.6zM426.5 312.3h2.6v2.6h-2.6zM427.2 314.9h2.6v2.6h-2.6zM427.8 312.8h2.6v2.6h-2.6zM428.5 314.7h2.6v2.6h-2.6zM429.2 312.6h2.6v2.6h-2.6zM429.8 313.0h2.6v2.6h-2.6zM430.5 312.5h2.6v2.6h-2.6zM431.2 311.5h2.6v2.6h-2.6zM431.8 310.0h2.6v2.6h-2.6zM432.5 311.4h2.6v2.6h-2.6zM433.2 311.3h2.6v2.6h-2.6zM433.8 312.2h2.6v2.6h-2.6zM434.5 310.3h2.6v2.6h-2.6zM435.2 311.0h2.6v2.6h-2.6zM435.8 309.6h2.6v2.6h-2.6zM436.5 310.3h2.6v2.6h-2.6zM437.1 308.1h2.6v2.6h-2.6zM437.8 311.9h2.6v2.6h-2.6zM438.5 309.9h2.6v2.6h-2.6zM439.1 308.4h2.6v2.6h-2.6zM439.8 309.5h2.6v2.6h-2.6zM440.5 309.7h2.6v2.6h-2.6zM441.1 308.9h2.6v2.6h-2.6zM441.8 309.9h2.6v2.6h-2.6zM442.5 308.1h2.6v2.6h-2.6zM443.1 305.4h2.6v2.6h-2.6zM443.8 306.5h2.6v2.6h-2.6zM444.5 308.8h2.6v2.6h-2.6zM445.1 308.3h2.6v2.6h-2.6zM445.8 307.6h2.6v2.6h-2.6zM446.4 305.9h2.6v2.6h-2.6zM447.1 307.6h2.6v2.6h-2.6zM447.8 307.3h2.6v2.6h-2.6zM448.4 305.4h2.6v2.6h-2.6zM449.1 305.2h2.6v2.6h-2.6zM449.8 306.3h2.6v2.6h-2.6zM450.4 307.0h2.6v2.6h-2.6zM451.1 307.2h2.6v2.6h-2.6zM451.8 306.1h2.6v2.6h-2.6zM452.4 307.6h2.6v2.6h-2.6zM453.1 304.2h2.6v2.6h-2.6zM453.7 305.5h2.6v2.6h-2.6zM454.4 304.1h2.6v2.6h-2.6zM455.1 302.5h2.6v2.6h-2.6zM455.7 303.0h2.6v2.6h-2.6zM456.4 305.4h2.6v2.6h-2.6zM457.1 303.0h2.6v2.6h-2.6zM457.7 302.5h2.6v2.6h-2.6zM458.4 304.4h2.6v2.6h-2.6zM459.1 304.5h2.6v2.6h-2.6zM459.7 303.4h2.6v2.6h-2.6zM460.4 304.8h2.6v2.6h-2.6zM461.1 301.4h2.6v2.6h-2.6zM461.7 305.4h2.6v2.6h-2.6zM462.4 303.8h2.6v2.6h-2.6zM463.0 302.8h2.6v2.6h-2.6z" fill="#4da6ff"/>
<polyline points="108.5,291.2 110.0,291.3 111.4,291.4 112.9,291.4 114.3,291.5 115.7,291.6 117.2,291.7 118.6,291.8 120.1,291.8 121.5,291.9 123.0,292.0 124.4,292.1 125.8,292.2 127.3,292.3 128.7,292.4 130.2,292.5 131.6,292.5 133.1,292.6 134.5,292.7 136.0,292.8 137.4,292.9 138.8,293.1 140.3,293.2 141.7,293.3 143.2,293.4 144.6,293.5 146.1,293.6 147.5,293.7 148.9,293.8 150.4,294.0 151.8,294.1 153.3,294.2 154.7,294.4 156.2,294.5 157.6,294.6 159.1,294.8 160.5,294.9 161.9,295.0 163.4,295.2 164.8,295.3 166.3,295.5 167.7,295.6 169.2,295.8 170.6,296.0 172.0,296.1 173.5,296.3 174.9,296.5 176.4,296.7 177.8,296.8 179.3,297.0 180.7,297.2 182.2,297.4 183.6,297.6 185.0,297.8 186.5,298.0 187.9,298.2 189.4,298.4 190.8,298.6 192.3,298.9 193.7,299.1 195.1,299.3 196.6,299.6 198.0,299.8 199.5,300.0 200.9,300.3 202.4,300.6 203.8,300.8 205.3,301.1 206.7,301.4 208.1,301.7 209.6,302.0 211.0,302.2 212.5,302.6 213.9,302.9 215.4,303.2 216.8,303.5 218.2,303.9 219.7,304.2 221.1,304.5 222.6,304.9 224.0,305.3 225.5,305.7 226.9,306.1 228.4,306.4 229.8,306.9 231.2,307.3 232.7,307.7 234.1,308.2 235.6,308.6 237.0,309.1 238.5,309.6 239.9,310.0 241.3,310.6 242.8,311.1 244.2,311.6 245.7,312.2 247.1,312.7 248.6,313.3 250.0,313.9 251.5,314.5 252.9,315.2 254.3,315.8 255.8,316.5 257.2,317.2 258.7,317.9 260.1,318.6 261.6,319.4 263.0,320.2 264.4,321.0 265.9,321.8 267.3,322.7 268.8,323.6 270.2,324.5 271.7,325.5 273.1,326.5 274.6,327.5 276.0,328.6 277.4,329.7 278.9,330.8 280.3,332.0 281.8,333.2 283.2,334.5 284.7,335.9 286.1,337.2 287.5,338.7 289.0,340.2 290.4,341.7 291.9,343.4 293.3,345.1 294.8,346.9 296.2,348.7 297.7,350.7 299.1,352.7 300.5,354.8 302.0,357.1 303.4,359.4 304.9,361.9 306.3,364.5 307.8,367.2 309.2,370.1 310.6,373.2 312.1,376.4 313.5,379.8 315.0,383.4 316.4,387.3 317.9,391.4 319.3,395.8 320.8,400.5 322.2,405.6 323.6,411.0 324.3,413.5 324.4,414.0 324.5,414.4 324.6,414.9 324.7,415.4 324.9,415.9 325.0,416.4 325.1,416.8 325.2,417.3 325.3,417.8 325.4,418.3 325.5,418.8 325.7,419.3 325.8,419.8 325.9,420.3 326.0,420.8 326.1,421.3 326.2,421.8 326.4,422.4 326.5,422.9 326.6,423.4 326.7,423.9 326.8,424.5 326.9,425.0 327.0,425.6 327.2,426.1 327.3,426.6 327.4,427.2 327.5,427.7 327.6,428.3 327.7,428.9 327.9,429.4 328.0,430.0 328.1,430.6 328.2,431.1 328.3,431.7 328.4,432.3 328.5,432.9 328.7,433.5 328.8,434.1 328.9,434.7 329.0,435.3 329.1,435.9 329.2,436.5 329.4,437.1 329.5,437.8 329.6,438.4 329.7,439.0 329.8,439.7 329.9,440.3 330.1,440.9 330.2,441.6 330.3,442.2 330.4,442.9 330.5,443.6 330.6,444.2 330.7,444.9 330.9,445.6 331.0,446.3 331.1,447.0 331.2,447.6 331.3,448.3 331.4,449.0 331.6,449.8 331.7,450.5 331.8,451.2 331.9,451.9 332.0,452.6 332.1,453.4 332.2,454.1 332.4,454.9 332.5,455.6 332.6,456.4 332.7,457.1 332.8,457.9 332.9,458.7 333.1,459.5 333.2,460.2 333.3,461.0 333.4,461.8 333.5,462.6 333.6,463.4 333.7,464.3 333.9,465.1 334.0,465.9 334.1,466.7 334.2,467.6 334.3,468.4 334.4,469.3 334.6,470.2 334.7,471.0 334.8,471.9 334.9,472.8 335.0,473.7 335.1,474.6 335.2,475.5 335.4,476.4 335.5,477.3 335.6,478.2 335.7,479.1 335.8,480.0 335.9,481.0 336.1,481.9 336.2,482.9 336.3,483.8 336.4,484.8 336.5,485.8 336.6,486.8 336.7,487.7 336.9,488.7 337.0,489.7 337.1,490.7 337.2,491.7 337.3,492.7 337.4,493.7 337.6,494.8 337.7,495.8 337.8,496.8 337.9,497.8 338.0,498.9 338.1,499.9 338.3,500.9 338.4,502.0 338.5,503.0 338.6,504.0 338.7,505.0 338.8,506.1 338.9,507.1 339.1,508.1 339.2,509.1 339.3,510.1 339.4,511.1 339.5,512.1 339.6,513.1 339.8,514.0 339.9,514.9 340.0,515.8 340.1,516.7 340.2,517.5 340.3,518.3 340.4,519.1 340.6,519.8 340.7,520.5 340.8,521.1 340.9,521.7 341.0,522.1 341.1,522.5 341.3,522.9 341.4,523.1 341.5,523.3 341.6,523.3 341.7,523.3 341.8,523.1 341.9,522.9 342.1,522.5 342.2,522.1 342.3,521.7 342.4,521.1 342.5,520.5 342.6,519.8 342.8,519.1 342.9,518.3 343.0,517.5 343.1,516.7 343.2,515.8 343.3,514.9 343.4,514.0 343.6,513.1 343.7,512.1 343.8,511.1 343.9,510.1 344.0,509.1 344.1,508.1 344.3,507.1 344.4,506.1 344.5,505.0 344.6,504.0 344.7,503.0 344.8,502.0 344.9,500.9 345.1,499.9 345.2,498.9 345.3,497.8 345.4,496.8 345.5,495.8 345.6,494.8 345.8,493.7 345.9,492.7 346.0,491.7 346.1,490.7 346.2,489.7 346.3,488.7 346.5,487.7 346.6,486.8 346.7,485.8 346.8,484.8 346.9,483.8 347.0,482.9 347.1,481.9 347.3,481.0 347.4,480.0 347.5,479.1 347.6,478.2 347.7,477.3 347.8,476.4 348.0,475.5 348.1,474.6 348.2,473.7 348.3,472.8 348.4,471.9 348.5,471.0 348.6,470.2 348.8,469.3 348.9,468.4 349.0,467.6 349.1,466.7 349.2,465.9 349.3,465.1 349.5,464.3 349.6,463.4 349.7,462.6 349.8,461.8 349.9,461.0 350.0,460.2 350.1,459.5 350.3,458.7 350.4,457.9 350.5,457.1 350.6,456.4 350.7,455.6 350.8,454.9 351.0,454.1 351.1,453.4 351.2,452.6 351.3,451.9 351.4,451.2 351.5,450.5 351.6,449.8 351.8,449.0 351.9,448.3 352.0,447.6 352.1,447.0 352.2,446.3 352.3,445.6 352.5,444.9 352.6,444.2 352.7,443.6 352.8,442.9 352.9,442.2 353.0,441.6 353.2,440.9 353.3,440.3 353.4,439.7 353.5,439.0 353.6,438.4 353.7,437.8 353.8,437.1 354.0,436.5 354.1,435.9 354.2,435.3 354.3,434.7 354.4,434.1 354.5,433.5 354.7,432.9 354.8,432.3 354.9,431.7 355.0,431.1 355.1,430.6 355.2,430.0 355.3,429.4 355.5,428.9 355.6,428.3 355.7,427.7 355.8,427.2 355.9,426.6 356.0,426.1 356.2,425.6 356.3,425.0 356.4,424.5 356.5,423.9 356.6,423.4 356.7,422.9 356.8,422.4 357.0,421.8 357.1,421.3 357.2,420.8 357.3,420.3 357.4,419.8 357.5,419.3 357.7,418.8 357.8,418.3 357.9,417.8 358.0,417.3 358.1,416.8 358.2,416.4 358.3,415.9 358.5,415.4 358.6,414.9 358.7,414.4 358.8,414.0 358.9,413.5 360.4,407.9 361.8,402.7 363.3,397.9 364.7,393.3 366.1,389.1 367.6,385.1 369.0,381.4 370.5,377.9 371.9,374.6 373.4,371.4 374.8,368.5 376.2,365.7 377.7,363.0 379.1,360.5 380.6,358.1 382.0,355.8 383.5,353.6 384.9,351.5 386.4,349.6 387.8,347.7 389.2,345.8 390.7,344.1 392.1,342.5 393.6,340.9 395.0,339.3 396.5,337.9 397.9,336.5 399.4,335.1 400.8,333.8 402.2,332.5 403.7,331.3 405.1,330.2 406.6,329.1 408.0,328.0 409.5,326.9 410.9,325.9 412.3,324.9 413.8,324.0 415.2,323.1 416.7,322.2 418.1,321.4 419.6,320.5 421.0,319.7 422.5,319.0 423.9,318.2 425.3,317.5 426.8,316.8 428.2,316.1 429.7,315.4 431.1,314.8 432.6,314.2 434.0,313.6 435.4,313.0 436.9,312.4 438.3,311.8 439.8,311.3 441.2,310.8 442.7,310.3 444.1,309.8 445.6,309.3 447.0,308.8 448.4,308.4 449.9,307.9 451.3,307.5 452.8,307.0 454.2,306.6 455.7,306.2 457.1,305.8 458.5,305.4 460.0,305.1 461.4,304.7 462.9,304.4 464.3,304.0 465.8,303.7 467.2,303.3" fill="none" stroke="#ff0000" stroke-width="2.45" stroke-dasharray="10.75 9.4" stroke-linejoin="round"/>
<polyline points="107.7,337.4 108.4,337.5 109.0,337.7 109.7,337.8 110.4,338.1 111.0,338.1 111.7,337.7 112.4,337.8 113.0,337.7 113.7,337.7 114.4,337.9 115.0,337.8 115.7,338.0 116.3,338.1 117.0,338.1 117.7,338.4 118.3,338.4 119.0,338.8 119.7,339.2 120.3,339.4 121.0,339.4 121.7,339.3 122.3,339.1 123.0,338.7 123.7,338.8 124.3,339.1 125.0,339.3 125.6,339.4 126.3,339.4 127.0,339.3 127.6,339.3 128.3,339.5 129.0,339.8 129.6,339.3 130.3,339.5 131.0,339.3 131.6,339.1 132.3,339.5 132.9,339.4 133.6,339.4 134.3,339.7 134.9,339.9 135.6,339.9 136.3,339.7 136.9,340.0 137.6,339.7 138.3,339.7 138.9,340.2 139.6,339.5 140.3,339.5 140.9,339.8 141.6,339.7 142.2,340.0 142.9,340.3 143.6,339.9 144.2,340.0 144.9,340.0 145.6,339.7 146.2,340.0 146.9,340.0 147.6,340.2 148.2,340.5 148.9,340.7 149.6,340.9 150.2,340.9 150.9,340.8 151.5,340.3 152.2,340.5 152.9,340.7 153.5,340.8 154.2,341.5 154.9,341.3 155.5,341.3 156.2,341.2 156.9,340.7 157.5,340.7 158.2,340.8 158.9,341.2 159.5,341.1 160.2,341.1 160.8,341.2 161.5,341.1 162.2,341.5 162.8,341.5 163.5,341.7 164.2,341.9 164.8,342.0 165.5,341.8 166.2,341.5 166.8,341.6 167.5,341.4 168.1,341.8 168.8,341.8 169.5,341.9 170.1,342.0 170.8,342.3 171.5,342.5 172.1,342.9 172.8,343.5 173.5,343.4 174.1,343.8 174.8,343.5 175.5,342.8 176.1,343.0 176.8,343.1 177.4,343.2 178.1,343.7 178.8,343.7 179.4,343.7 180.1,343.8 180.8,343.9 181.4,344.2 182.1,344.3 182.8,344.6 183.4,345.0 184.1,344.9 184.8,345.2 185.4,345.2 186.1,345.1 186.7,345.2 187.4,345.3 188.1,345.7 188.7,346.3 189.4,346.7 190.1,346.7 190.7,347.2 191.4,346.8 192.1,347.1 192.7,347.2 193.4,347.1 194.0,347.3 194.7,347.1 195.4,347.8 196.0,347.5 196.7,347.6 197.4,347.8 198.0,347.7 198.7,348.2 199.4,348.9 200.0,348.8 200.7,349.1 201.4,349.3 202.0,349.4 202.7,350.0 203.3,350.3 204.0,350.3 204.7,350.4 205.3,350.3 206.0,350.2 206.7,350.8 207.3,351.1 208.0,351.6 208.7,351.8 209.3,352.0 210.0,352.2 210.7,352.6 211.3,353.0 212.0,352.8 212.6,353.2 213.3,353.3 214.0,353.4 214.6,353.6 215.3,354.1 216.0,354.1 216.6,354.6 217.3,355.5 218.0,355.3 218.6,355.5 219.3,355.6 219.9,355.7 220.6,356.0 221.3,356.4 221.9,356.7 222.6,357.1 223.3,357.7 223.9,357.6 224.6,357.9 225.3,357.9 225.9,358.0 226.6,358.6 227.3,358.9 227.9,359.2 228.6,359.5 229.2,359.7 229.9,359.9 230.6,360.1 231.2,360.2 231.9,360.4 232.6,360.8 233.2,361.6 233.9,361.9 234.6,362.1 235.2,362.3 235.9,362.2 236.6,362.6 237.2,362.9 237.9,363.0 238.5,363.6 239.2,363.8 239.9,364.5 240.5,364.8 241.2,365.0 241.9,365.5 242.5,365.2 243.2,365.4 243.9,366.1 244.5,367.0 245.2,367.5 245.9,368.4 246.5,368.6 247.2,368.4 247.8,369.3 248.5,369.9 249.2,370.2 249.8,370.8 250.5,370.9 251.2,370.9 251.8,371.6 252.5,372.3 253.2,372.7 253.8,373.3 254.5,373.9 255.1,374.0 255.8,374.4 256.5,374.6 257.1,375.0 257.8,375.7 258.5,376.3 259.1,377.1 259.8,377.4 260.5,377.9 261.1,378.1 261.8,378.4 262.5,378.6 263.1,379.3 263.8,379.7 264.4,380.4 265.1,381.3 265.8,381.9 266.4,382.8 267.1,383.2 267.8,383.8 268.4,384.2 269.1,384.8 269.8,385.3 270.4,385.9 271.1,387.0 271.8,387.8 272.4,389.1 273.1,390.4 273.7,390.7 274.4,391.0 275.1,391.3 275.7,391.6 276.4,392.4 277.1,393.2 277.7,393.9 278.4,394.4 279.1,395.0 279.7,396.0 280.4,396.6 281.0,397.3 281.7,398.0 282.4,399.1 283.0,399.9 283.7,401.0 284.4,401.6 285.0,402.5 285.7,403.5 286.4,404.2 287.0,405.5 287.7,405.8 288.4,406.4 289.0,407.3 289.7,407.8 290.3,409.0 291.0,410.7 291.7,411.5 292.3,412.6 293.0,413.7 293.7,414.3 294.3,415.4 295.0,416.5 295.7,417.3 296.3,418.0 297.0,419.0 297.7,419.7 298.3,421.1 299.0,422.4 299.6,423.8 300.3,425.0 301.0,425.8 301.6,426.7 302.3,427.4 303.0,428.9 303.6,430.3 304.3,431.8 305.0,433.2 305.6,434.6 306.3,435.6 307.0,436.8 307.6,438.2 308.3,439.6 308.9,441.5 309.6,442.6 310.3,443.9 310.9,445.2 311.6,446.5 312.3,448.5 312.9,450.0 313.6,451.2 314.3,452.7 314.9,454.0 315.6,455.5 316.2,457.1 316.9,458.9 317.6,460.4 318.2,462.1 318.9,463.6 319.6,465.0 320.2,466.5 320.9,467.7 321.6,469.6 322.2,471.3 322.9,473.1 323.6,475.1 324.2,477.1 324.9,478.7 325.5,480.2 326.2,482.1 326.9,483.9 327.5,486.2 328.2,488.6 328.9,491.0 329.5,493.3 330.2,495.1 330.9,497.7 331.5,499.5 332.2,501.4 332.9,503.9 333.5,505.9 334.2,507.9 334.8,510.4 335.5,512.5 336.2,514.8 336.8,516.9 337.5,518.2 338.2,519.3 338.8,520.6 339.5,521.8 340.2,523.1 340.8,523.7 341.5,523.6 342.1,523.3 342.8,522.9 343.5,522.3 344.1,521.2 344.8,520.0 345.5,518.7 346.1,516.9 346.8,514.9 347.5,513.0 348.1,511.0 348.8,509.4 349.5,507.5 350.1,505.7 350.8,503.7 351.4,500.8 352.1,498.4 352.8,495.8 353.4,493.5 354.1,491.6 354.8,489.7 355.4,487.5 356.1,484.7 356.8,482.6 357.4,480.7 358.1,479.2 358.8,477.8 359.4,476.1 360.1,474.4 360.7,472.4 361.4,470.9 362.1,468.9 362.7,466.8 363.4,465.0 364.1,463.3 364.7,461.8 365.4,460.5 366.1,459.3 366.7,457.8 367.4,456.6 368.0,455.4 368.7,453.8 369.4,452.3 370.0,450.6 370.7,448.8 371.4,447.9 372.0,446.7 372.7,445.4 373.4,444.3 374.0,442.7 374.7,441.1 375.4,439.9 376.0,439.0 376.7,437.9 377.3,436.8 378.0,435.6 378.7,434.6 379.3,433.0 380.0,431.9 380.7,430.6 381.3,429.3 382.0,428.5 382.7,427.8 383.3,426.5 384.0,425.5 384.7,424.1 385.3,423.0 386.0,422.5 386.6,421.8 387.3,421.2 388.0,419.9 388.6,419.3 389.3,417.8 390.0,416.8 390.6,416.3 391.3,415.2 392.0,414.7 392.6,413.9 393.3,412.9 394.0,412.1 394.6,411.3 395.3,410.6 395.9,410.0 396.6,409.0 397.3,408.0 397.9,407.3 398.6,406.3 399.3,405.6 399.9,405.2 400.6,404.0 401.3,403.4 401.9,402.2 402.6,401.5 403.2,400.8 403.9,400.1 404.6,399.8 405.2,398.8 405.9,398.3 406.6,397.4 407.2,396.6 407.9,396.3 408.6,395.6 409.2,395.1 409.9,394.3 410.6,393.6 411.2,393.0 411.9,392.7 412.5,392.1 413.2,391.6 413.9,391.3 414.5,390.4 415.2,389.7 415.9,389.2 416.5,388.5 417.2,388.1 417.9,388.0 418.5,387.0 419.2,386.4 419.9,385.9 420.5,385.0 421.2,384.7 421.8,383.9 422.5,383.5 423.2,383.3 423.8,383.0 424.5,382.2 425.2,381.6 425.8,380.8 426.5,380.0 427.2,379.8 427.8,379.3 428.5,378.5 429.1,378.2 429.8,378.1 430.5,377.8 431.1,378.0 431.8,377.2 432.5,376.3 433.1,375.8 433.8,375.4 434.5,375.2 435.1,374.7 435.8,374.6 436.5,373.8 437.1,373.5 437.8,373.2 438.4,372.4 439.1,372.2 439.8,371.9 440.4,371.9 441.1,371.0 441.8,370.4 442.4,369.8 443.1,369.4 443.8,369.7 444.4,369.6 445.1,369.1 445.8,368.6 446.4,367.9 447.1,367.7 447.7,367.3 448.4,367.0 449.1,366.3 449.7,365.4 450.4,365.1 451.1,364.9 451.7,364.8 452.4,365.0 453.1,364.8 453.7,364.3 454.4,364.2 455.0,363.6 455.7,363.2 456.4,362.8 457.0,362.3 457.7,362.3 458.4,362.2 459.0,361.9 459.7,361.7 460.4,361.2 461.0,360.8 461.7,360.7 462.4,360.3 463.0,360.3 463.7,360.2 464.3,359.7 465.0,359.8 465.7,359.3 466.3,358.9 467.0,358.6 467.7,358.0 468.3,357.7" fill="none" stroke="#0000ff" stroke-width="2.7" stroke-linejoin="round"/>
<polyline points="108.5,337.5 110.0,337.6 111.4,337.7 112.9,337.8 114.3,337.9 115.7,338.0 117.2,338.1 118.6,338.2 120.1,338.3 121.5,338.4 123.0,338.5 124.4,338.6 125.8,338.8 127.3,338.9 128.7,339.0 130.2,339.2 131.6,339.3 133.1,339.4 134.5,339.6 136.0,339.7 137.4,339.9 138.8,340.1 140.3,340.2 141.7,340.4 143.2,340.6 144.6,340.8 146.1,341.0 147.5,341.1 148.9,341.3 150.4,341.5 151.8,341.8 153.3,342.0 154.7,342.2 156.2,342.4 157.6,342.6 159.1,342.9 160.5,343.1 161.9,343.4 163.4,343.6 164.8,343.9 166.3,344.1 167.7,344.4 169.2,344.7 170.6,345.0 172.0,345.3 173.5,345.6 174.9,345.9 176.4,346.2 177.8,346.5 179.3,346.8 180.7,347.2 182.2,347.5 183.6,347.9 185.0,348.2 186.5,348.6 187.9,349.0 189.4,349.3 190.8,349.7 192.3,350.1 193.7,350.5 195.1,350.9 196.6,351.4 198.0,351.8 199.5,352.3 200.9,352.7 202.4,353.2 203.8,353.6 205.3,354.1 206.7,354.6 208.1,355.1 209.6,355.7 211.0,356.2 212.5,356.7 213.9,357.3 215.4,357.8 216.8,358.4 218.2,359.0 219.7,359.6 221.1,360.2 222.6,360.8 224.0,361.5 225.5,362.1 226.9,362.8 228.4,363.5 229.8,364.2 231.2,364.9 232.7,365.6 234.1,366.3 235.6,367.1 237.0,367.9 238.5,368.7 239.9,369.5 241.3,370.3 242.8,371.2 244.2,372.0 245.7,372.9 247.1,373.8 248.6,374.7 250.0,375.7 251.5,376.6 252.9,377.6 254.3,378.6 255.8,379.6 257.2,380.7 258.7,381.8 260.1,382.9 261.6,384.0 263.0,385.2 264.4,386.3 265.9,387.5 267.3,388.8 268.8,390.0 270.2,391.3 271.7,392.7 273.1,394.0 274.6,395.4 276.0,396.8 277.4,398.3 278.9,399.8 280.3,401.3 281.8,402.9 283.2,404.5 284.7,406.2 286.1,407.9 287.5,409.6 289.0,411.4 290.4,413.3 291.9,415.2 293.3,417.1 294.8,419.1 296.2,421.2 297.7,423.3 299.1,425.5 300.5,427.7 302.0,430.0 303.4,432.4 304.9,434.8 306.3,437.4 307.8,440.0 309.2,442.7 310.6,445.5 312.1,448.3 313.5,451.3 315.0,454.4 316.4,457.6 317.9,460.8 319.3,464.3 320.8,467.8 322.2,471.4 323.6,475.2 324.3,477.0 324.4,477.3 324.5,477.6 324.6,477.9 324.7,478.2 324.9,478.5 325.0,478.9 325.1,479.2 325.2,479.5 325.3,479.8 325.4,480.2 325.5,480.5 325.7,480.8 325.8,481.1 325.9,481.5 326.0,481.8 326.1,482.1 326.2,482.5 326.4,482.8 326.5,483.1 326.6,483.5 326.7,483.8 326.8,484.2 326.9,484.5 327.0,484.9 327.2,485.2 327.3,485.5 327.4,485.9 327.5,486.3 327.6,486.6 327.7,487.0 327.9,487.3 328.0,487.7 328.1,488.0 328.2,488.4 328.3,488.8 328.4,489.1 328.5,489.5 328.7,489.9 328.8,490.2 328.9,490.6 329.0,491.0 329.1,491.4 329.2,491.8 329.4,492.1 329.5,492.5 329.6,492.9 329.7,493.3 329.8,493.7 329.9,494.1 330.1,494.5 330.2,494.9 330.3,495.3 330.4,495.7 330.5,496.1 330.6,496.5 330.7,496.9 330.9,497.3 331.0,497.7 331.1,498.1 331.2,498.5 331.3,498.9 331.4,499.3 331.6,499.7 331.7,500.1 331.8,500.5 331.9,500.9 332.0,501.3 332.1,501.8 332.2,502.2 332.4,502.6 332.5,503.0 332.6,503.4 332.7,503.8 332.8,504.2 332.9,504.6 333.1,505.0 333.2,505.4 333.3,505.8 333.4,506.2 333.5,506.6 333.6,507.0 333.7,507.3 333.9,507.7 334.0,508.1 334.1,508.5 334.2,508.9 334.3,509.2 334.4,509.6 334.6,510.0 334.7,510.3 334.8,510.7 334.9,511.1 335.0,511.4 335.1,511.8 335.2,512.1 335.4,512.5 335.5,512.8 335.6,513.1 335.7,513.5 335.8,513.8 335.9,514.1 336.1,514.4 336.2,514.7 336.3,515.1 336.4,515.4 336.5,515.7 336.6,516.0 336.7,516.3 336.9,516.6 337.0,516.8 337.1,517.1 337.2,517.4 337.3,517.7 337.4,518.0 337.6,518.2 337.7,518.5 337.8,518.7 337.9,519.0 338.0,519.3 338.1,519.5 338.3,519.7 338.4,520.0 338.5,520.2 338.6,520.4 338.7,520.6 338.8,520.9 338.9,521.1 339.1,521.3 339.2,521.5 339.3,521.7 339.4,521.8 339.5,522.0 339.6,522.2 339.8,522.3 339.9,522.5 340.0,522.6 340.1,522.8 340.2,522.9 340.3,523.0 340.4,523.1 340.6,523.2 340.7,523.3 340.8,523.3 340.9,523.3 341.0,523.3 341.1,523.3 341.3,523.3 341.4,523.3 341.5,523.3 341.6,523.3 341.7,523.3 341.8,523.3 341.9,523.3 342.1,523.3 342.2,523.3 342.3,523.3 342.4,523.3 342.5,523.3 342.6,523.2 342.8,523.1 342.9,523.0 343.0,522.9 343.1,522.8 343.2,522.6 343.3,522.5 343.4,522.3 343.6,522.2 343.7,522.0 343.8,521.8 343.9,521.7 344.0,521.5 344.1,521.3 344.3,521.1 344.4,520.9 344.5,520.6 344.6,520.4 344.7,520.2 344.8,520.0 344.9,519.7 345.1,519.5 345.2,519.3 345.3,519.0 345.4,518.7 345.5,518.5 345.6,518.2 345.8,518.0 345.9,517.7 346.0,517.4 346.1,517.1 346.2,516.8 346.3,516.6 346.5,516.3 346.6,516.0 346.7,515.7 346.8,515.4 346.9,515.1 347.0,514.7 347.1,514.4 347.3,514.1 347.4,513.8 347.5,513.5 347.6,513.1 347.7,512.8 347.8,512.5 348.0,512.1 348.1,511.8 348.2,511.4 348.3,511.1 348.4,510.7 348.5,510.3 348.6,510.0 348.8,509.6 348.9,509.2 349.0,508.9 349.1,508.5 349.2,508.1 349.3,507.7 349.5,507.3 349.6,507.0 349.7,506.6 349.8,506.2 349.9,505.8 350.0,505.4 350.1,505.0 350.3,504.6 350.4,504.2 350.5,503.8 350.6,503.4 350.7,503.0 350.8,502.6 351.0,502.2 351.1,501.8 351.2,501.3 351.3,500.9 351.4,500.5 351.5,500.1 351.6,499.7 351.8,499.3 351.9,498.9 352.0,498.5 352.1,498.1 352.2,497.7 352.3,497.3 352.5,496.9 352.6,496.5 352.7,496.1 352.8,495.7 352.9,495.3 353.0,494.9 353.2,494.5 353.3,494.1 353.4,493.7 353.5,493.3 353.6,492.9 353.7,492.5 353.8,492.1 354.0,491.8 354.1,491.4 354.2,491.0 354.3,490.6 354.4,490.2 354.5,489.9 354.7,489.5 354.8,489.1 354.9,488.8 355.0,488.4 355.1,488.0 355.2,487.7 355.3,487.3 355.5,487.0 355.6,486.6 355.7,486.3 355.8,485.9 355.9,485.5 356.0,485.2 356.2,484.9 356.3,484.5 356.4,484.2 356.5,483.8 356.6,483.5 356.7,483.1 356.8,482.8 357.0,482.5 357.1,482.1 357.2,481.8 357.3,481.5 357.4,481.1 357.5,480.8 357.7,480.5 357.8,480.2 357.9,479.8 358.0,479.5 358.1,479.2 358.2,478.9 358.3,478.5 358.5,478.2 358.6,477.9 358.7,477.6 358.8,477.3 358.9,477.0 360.4,473.1 361.8,469.4 363.3,465.8 364.7,462.3 366.1,459.0 367.6,455.8 369.0,452.6 370.5,449.6 371.9,446.7 373.4,443.9 374.8,441.2 376.2,438.5 377.7,435.9 379.1,433.5 380.6,431.1 382.0,428.7 383.5,426.4 384.9,424.2 386.4,422.1 387.8,420.0 389.2,418.0 390.7,416.0 392.1,414.1 393.6,412.2 395.0,410.4 396.5,408.7 397.9,406.9 399.4,405.3 400.8,403.6 402.2,402.0 403.7,400.5 405.1,399.0 406.6,397.5 408.0,396.0 409.5,394.6 410.9,393.3 412.3,391.9 413.8,390.6 415.2,389.3 416.7,388.1 418.1,386.9 419.6,385.7 421.0,384.5 422.5,383.4 423.9,382.3 425.3,381.2 426.8,380.1 428.2,379.1 429.7,378.0 431.1,377.1 432.6,376.1 434.0,375.1 435.4,374.2 436.9,373.3 438.3,372.4 439.8,371.5 441.2,370.7 442.7,369.8 444.1,369.0 445.6,368.2 447.0,367.4 448.4,366.7 449.9,365.9 451.3,365.2 452.8,364.5 454.2,363.8 455.7,363.1 457.1,362.4 458.5,361.8 460.0,361.1 461.4,360.5 462.9,359.9 464.3,359.3 465.8,358.7 467.2,358.1" fill="none" stroke="#ff0000" stroke-width="2.45" stroke-dasharray="10.75 9.4" stroke-linejoin="round"/>
</g>
<g font-family="Liberation Sans, sans-serif" font-size="20.2" fill="#000" stroke="#000" stroke-width="0.3">
<text x="103.7" y="529" text-anchor="end">0.0</text>
<text x="103.7" y="457" text-anchor="end">0.2</text>
<text x="103.7" y="386" text-anchor="end">0.4</text>
<text x="103.7" y="315" text-anchor="end">0.6</text>
<text x="103.7" y="243" text-anchor="end">0.8</text>
<text x="110.5" y="549" text-anchor="middle">-40</text>
<text x="226.0" y="549" text-anchor="middle">-20</text>
<text x="341.6" y="549" text-anchor="middle">0</text>
<text x="457.1" y="549" text-anchor="middle">20</text>
</g>
<text x="342" y="581.5" text-anchor="middle" font-family="Liberation Sans, sans-serif" font-size="27.2" fill="#000" stroke="#000" stroke-width="0.3"><tspan font-style="italic">B</tspan> (mT)</text>
<g transform="translate(48.2,416.3) rotate(-90)" font-family="Liberation Sans, sans-serif" font-size="29.3" fill="#000" stroke="#000" stroke-width="0.3"><text x="0" y="0">Δ</text><text x="18.6" y="0" font-style="italic">G</text><path d="M56.4,-22.2Q38.2,-7.8 56.4,6.6L57.9,6.6Q42.7,-7.8 57.9,-22.2Z"/><text x="59.8" y="0">e</text><text x="75.4" y="-14.2" font-size="19.6">2</text><text x="85.9" y="0">/</text><text x="95.4" y="0" font-style="italic">h</text><path d="M111.1,-22.2Q129.5,-7.8 111.1,6.6L109.6,6.6Q125.0,-7.8 109.6,-22.2Z"/></g>
<path d="M395 431H411.7" stroke="#000" stroke-width="2.2"/>
<text x="415.7" y="436.4" font-family="Liberation Sans, sans-serif" font-size="16.3" fill="#000" stroke="#000" stroke-width="0.25"><tspan font-style="italic">V</tspan><tspan font-size="10.3" dy="6" dx="-0.5">g</tspan><tspan dy="-6">=-47</tspan></text>
<path d="M395 457.5H411.7" stroke="#009040" stroke-width="2.2"/>
<text x="415.7" y="462.9" font-family="Liberation Sans, sans-serif" font-size="16.3" fill="#000" stroke="#000" stroke-width="0.25"><tspan font-style="italic">V</tspan><tspan font-size="10.3" dy="6" dx="-0.5">g</tspan><tspan dy="-6">=-22</tspan></text>
<path d="M395 484.2H411.7" stroke="#4da6ff" stroke-width="2.2"/>
<text x="415.7" y="489.6" font-family="Liberation Sans, sans-serif" font-size="16.3" fill="#000" stroke="#000" stroke-width="0.25"><tspan font-style="italic">V</tspan><tspan font-size="10.3" dy="6" dx="-0.5">g</tspan><tspan dy="-6">=-10</tspan></text>
<path d="M395 508.2H411.7" stroke="#0000ff" stroke-width="2.2"/>
<text x="414.6" y="513.6" font-family="Liberation Sans, sans-serif" font-size="16.3" fill="#000" stroke="#000" stroke-width="0.25"><tspan font-style="italic">V</tspan><tspan font-size="10.3" dy="6" dx="-0.5">g</tspan><tspan dy="-6">=3.5</tspan></text>
</svg>
</body></html>
